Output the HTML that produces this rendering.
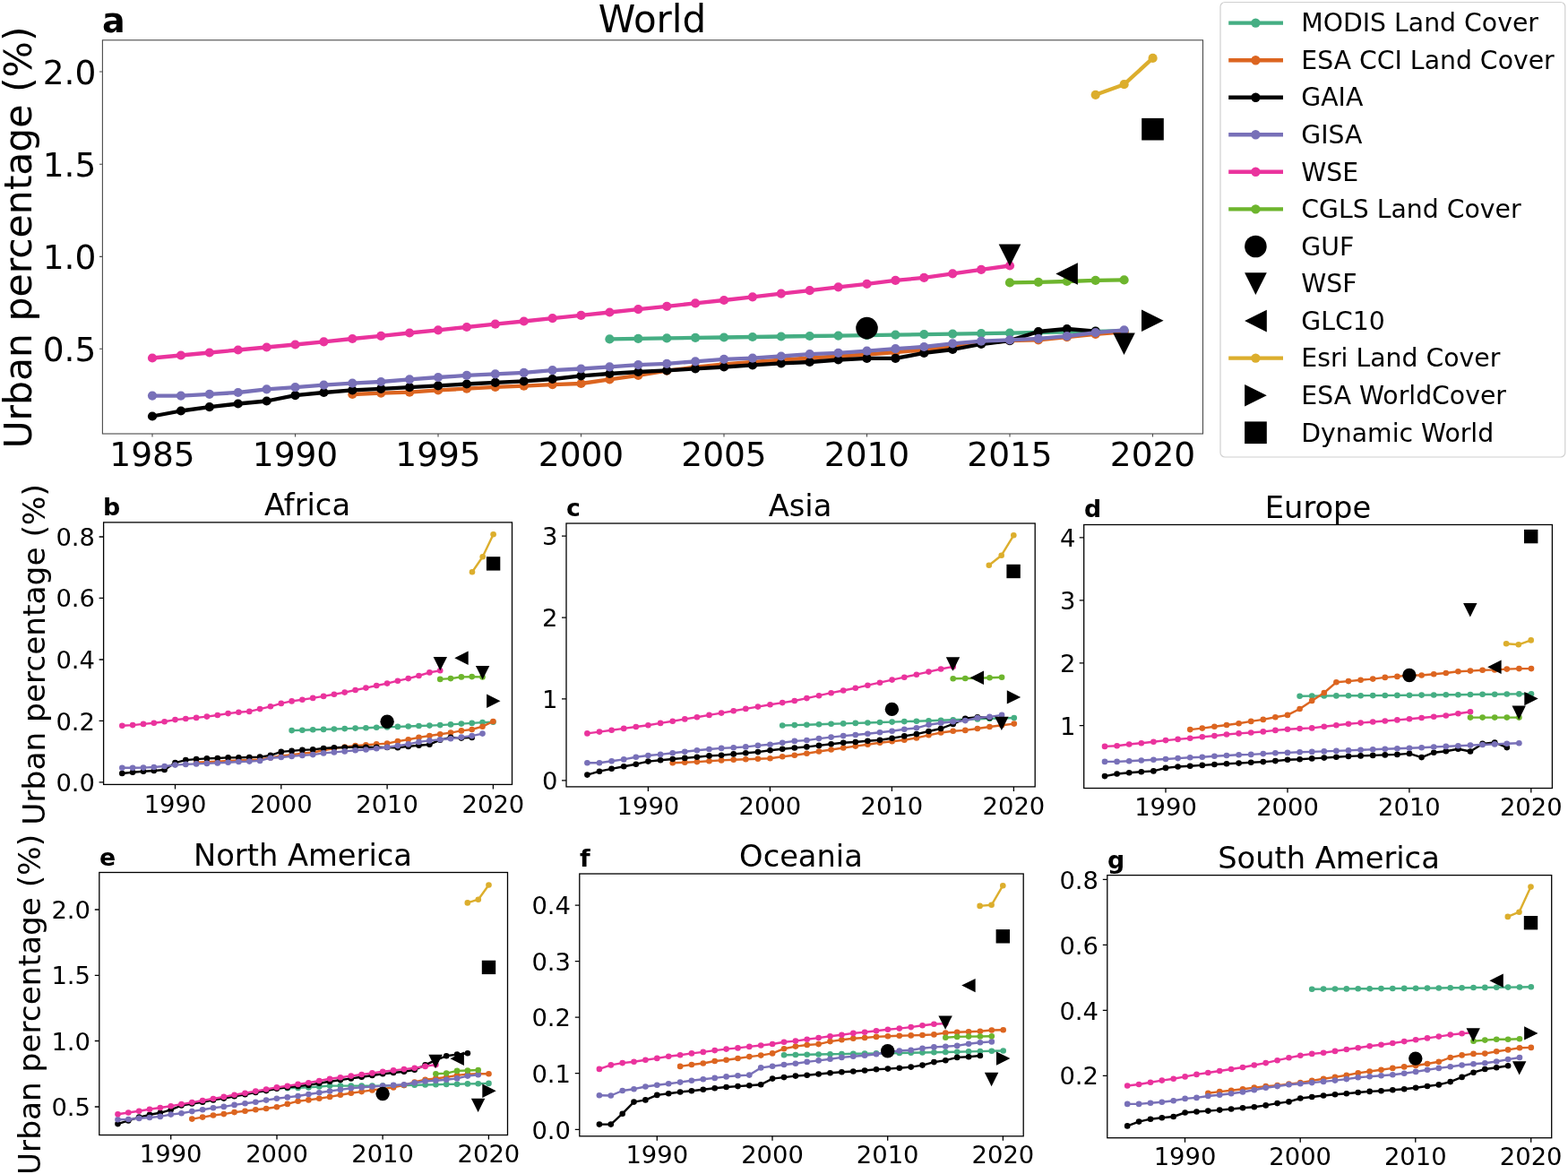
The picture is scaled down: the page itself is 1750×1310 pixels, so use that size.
<!DOCTYPE html>
<html lang="en">
<head>
<meta charset="utf-8">
<title>Urban percentage by land cover product</title>
<style>
html,body{margin:0;padding:0;background:#fff;}
body{width:1750px;height:1310px;overflow:hidden;}
svg{display:block;font-family:'DejaVu Sans','Liberation Sans',sans-serif;fill:#000;filter:blur(0.3px);}
svg text{fill:#000;}
</style>
</head>
<body>
<svg width="1750" height="1310" viewBox="0 0 1750 1310">
<rect width="1750" height="1310" fill="#fff"/>
<g>
<polyline points="680.4,378.4 712.3,377.9 744.2,377.4 776.1,376.9 808,376.5 839.9,376 871.8,375.5 903.7,375 935.6,374.6 967.5,374.1 999.4,373.6 1031.3,373.1 1063.2,372.6 1095.1,372.1 1127,371.6 1158.9,371 1190.8,370.4 1222.7,369.8 1254.6,369.2" fill="none" stroke="#45ae83" stroke-width="4.3" stroke-linejoin="round" stroke-linecap="butt"/>
<g fill="#45ae83"><circle cx="680.4" cy="378.4" r="5.1"/><circle cx="712.3" cy="377.9" r="5.1"/><circle cx="744.2" cy="377.4" r="5.1"/><circle cx="776.1" cy="376.9" r="5.1"/><circle cx="808" cy="376.5" r="5.1"/><circle cx="839.9" cy="376" r="5.1"/><circle cx="871.8" cy="375.5" r="5.1"/><circle cx="903.7" cy="375" r="5.1"/><circle cx="935.6" cy="374.6" r="5.1"/><circle cx="967.5" cy="374.1" r="5.1"/><circle cx="999.4" cy="373.6" r="5.1"/><circle cx="1031.3" cy="373.1" r="5.1"/><circle cx="1063.2" cy="372.6" r="5.1"/><circle cx="1095.1" cy="372.1" r="5.1"/><circle cx="1127" cy="371.6" r="5.1"/><circle cx="1158.9" cy="371" r="5.1"/><circle cx="1190.8" cy="370.4" r="5.1"/><circle cx="1222.7" cy="369.8" r="5.1"/><circle cx="1254.6" cy="369.2" r="5.1"/></g>
<polyline points="393.3,440 425.2,438.6 457.1,437.7 489,435.4 520.9,433.7 552.8,431.9 584.7,430.7 616.6,429.1 648.5,428 680.4,423.4 712.3,418.9 744.2,413.6 776.1,409.7 808,406.3 839.9,404 871.8,401.7 903.7,399.5 935.6,397.5 967.5,395.5 999.4,393 1031.3,390.5 1063.2,386.5 1095.1,383 1127,380 1158.9,379.4 1190.8,376.2 1222.7,372.8 1254.6,370.3" fill="none" stroke="#dc6520" stroke-width="4.3" stroke-linejoin="round" stroke-linecap="butt"/>
<g fill="#dc6520"><circle cx="393.3" cy="440" r="5.1"/><circle cx="425.2" cy="438.6" r="5.1"/><circle cx="457.1" cy="437.7" r="5.1"/><circle cx="489" cy="435.4" r="5.1"/><circle cx="520.9" cy="433.7" r="5.1"/><circle cx="552.8" cy="431.9" r="5.1"/><circle cx="584.7" cy="430.7" r="5.1"/><circle cx="616.6" cy="429.1" r="5.1"/><circle cx="648.5" cy="428" r="5.1"/><circle cx="680.4" cy="423.4" r="5.1"/><circle cx="712.3" cy="418.9" r="5.1"/><circle cx="744.2" cy="413.6" r="5.1"/><circle cx="776.1" cy="409.7" r="5.1"/><circle cx="808" cy="406.3" r="5.1"/><circle cx="839.9" cy="404" r="5.1"/><circle cx="871.8" cy="401.7" r="5.1"/><circle cx="903.7" cy="399.5" r="5.1"/><circle cx="935.6" cy="397.5" r="5.1"/><circle cx="967.5" cy="395.5" r="5.1"/><circle cx="999.4" cy="393" r="5.1"/><circle cx="1031.3" cy="390.5" r="5.1"/><circle cx="1063.2" cy="386.5" r="5.1"/><circle cx="1095.1" cy="383" r="5.1"/><circle cx="1127" cy="380" r="5.1"/><circle cx="1158.9" cy="379.4" r="5.1"/><circle cx="1190.8" cy="376.2" r="5.1"/><circle cx="1222.7" cy="372.8" r="5.1"/><circle cx="1254.6" cy="370.3" r="5.1"/></g>
<polyline points="170,464.5 201.9,458.5 233.8,454.2 265.7,450.5 297.6,447.5 329.5,441.1 361.4,438 393.3,435.4 425.2,433.8 457.1,432.2 489,430.4 520.9,428.5 552.8,426.9 584.7,425.3 616.6,423 648.5,419.3 680.4,417 712.3,415 744.2,413.4 776.1,411.3 808,409.5 839.9,407.4 871.8,405.3 903.7,404 935.6,401.5 967.5,399.9 999.4,399.9 1031.3,393.9 1063.2,390 1095.1,384 1127,380.1 1158.9,370 1190.8,367 1222.7,369.7" fill="none" stroke="#000000" stroke-width="4.3" stroke-linejoin="round" stroke-linecap="butt"/>
<g fill="#000000"><circle cx="170" cy="464.5" r="5.1"/><circle cx="201.9" cy="458.5" r="5.1"/><circle cx="233.8" cy="454.2" r="5.1"/><circle cx="265.7" cy="450.5" r="5.1"/><circle cx="297.6" cy="447.5" r="5.1"/><circle cx="329.5" cy="441.1" r="5.1"/><circle cx="361.4" cy="438" r="5.1"/><circle cx="393.3" cy="435.4" r="5.1"/><circle cx="425.2" cy="433.8" r="5.1"/><circle cx="457.1" cy="432.2" r="5.1"/><circle cx="489" cy="430.4" r="5.1"/><circle cx="520.9" cy="428.5" r="5.1"/><circle cx="552.8" cy="426.9" r="5.1"/><circle cx="584.7" cy="425.3" r="5.1"/><circle cx="616.6" cy="423" r="5.1"/><circle cx="648.5" cy="419.3" r="5.1"/><circle cx="680.4" cy="417" r="5.1"/><circle cx="712.3" cy="415" r="5.1"/><circle cx="744.2" cy="413.4" r="5.1"/><circle cx="776.1" cy="411.3" r="5.1"/><circle cx="808" cy="409.5" r="5.1"/><circle cx="839.9" cy="407.4" r="5.1"/><circle cx="871.8" cy="405.3" r="5.1"/><circle cx="903.7" cy="404" r="5.1"/><circle cx="935.6" cy="401.5" r="5.1"/><circle cx="967.5" cy="399.9" r="5.1"/><circle cx="999.4" cy="399.9" r="5.1"/><circle cx="1031.3" cy="393.9" r="5.1"/><circle cx="1063.2" cy="390" r="5.1"/><circle cx="1095.1" cy="384" r="5.1"/><circle cx="1127" cy="380.1" r="5.1"/><circle cx="1158.9" cy="370" r="5.1"/><circle cx="1190.8" cy="367" r="5.1"/><circle cx="1222.7" cy="369.7" r="5.1"/></g>
<polyline points="170,441.6 201.9,441.6 233.8,439.8 265.7,438 297.6,434.3 329.5,432.2 361.4,429.7 393.3,427.7 425.2,426 457.1,423.3 489,421 520.9,418.9 552.8,417.3 584.7,415.9 616.6,413.1 648.5,411.5 680.4,409.3 712.3,407.2 744.2,405.8 776.1,403.3 808,400.8 839.9,399.7 871.8,397.5 903.7,395.2 935.6,393.9 967.5,391.7 999.4,389.2 1031.3,387 1063.2,383.4 1095.1,380.7 1127,379.3 1158.9,377.9 1190.8,375.2 1222.7,371.1 1254.6,368.3" fill="none" stroke="#7870b8" stroke-width="4.3" stroke-linejoin="round" stroke-linecap="butt"/>
<g fill="#7870b8"><circle cx="170" cy="441.6" r="5.1"/><circle cx="201.9" cy="441.6" r="5.1"/><circle cx="233.8" cy="439.8" r="5.1"/><circle cx="265.7" cy="438" r="5.1"/><circle cx="297.6" cy="434.3" r="5.1"/><circle cx="329.5" cy="432.2" r="5.1"/><circle cx="361.4" cy="429.7" r="5.1"/><circle cx="393.3" cy="427.7" r="5.1"/><circle cx="425.2" cy="426" r="5.1"/><circle cx="457.1" cy="423.3" r="5.1"/><circle cx="489" cy="421" r="5.1"/><circle cx="520.9" cy="418.9" r="5.1"/><circle cx="552.8" cy="417.3" r="5.1"/><circle cx="584.7" cy="415.9" r="5.1"/><circle cx="616.6" cy="413.1" r="5.1"/><circle cx="648.5" cy="411.5" r="5.1"/><circle cx="680.4" cy="409.3" r="5.1"/><circle cx="712.3" cy="407.2" r="5.1"/><circle cx="744.2" cy="405.8" r="5.1"/><circle cx="776.1" cy="403.3" r="5.1"/><circle cx="808" cy="400.8" r="5.1"/><circle cx="839.9" cy="399.7" r="5.1"/><circle cx="871.8" cy="397.5" r="5.1"/><circle cx="903.7" cy="395.2" r="5.1"/><circle cx="935.6" cy="393.9" r="5.1"/><circle cx="967.5" cy="391.7" r="5.1"/><circle cx="999.4" cy="389.2" r="5.1"/><circle cx="1031.3" cy="387" r="5.1"/><circle cx="1063.2" cy="383.4" r="5.1"/><circle cx="1095.1" cy="380.7" r="5.1"/><circle cx="1127" cy="379.3" r="5.1"/><circle cx="1158.9" cy="377.9" r="5.1"/><circle cx="1190.8" cy="375.2" r="5.1"/><circle cx="1222.7" cy="371.1" r="5.1"/><circle cx="1254.6" cy="368.3" r="5.1"/></g>
<polyline points="170,399.5 201.9,396.5 233.8,393.5 265.7,390.5 297.6,387.5 329.5,384.5 361.4,381.3 393.3,378 425.2,374.8 457.1,371.5 489,368.3 520.9,365 552.8,361.7 584.7,358.5 616.6,355.2 648.5,351.9 680.4,348.5 712.3,345.1 744.2,341.8 776.1,338.4 808,335 839.9,331.3 871.8,327.6 903.7,324.2 935.6,320.3 967.5,316.8 999.4,312.9 1031.3,309.9 1063.2,305.3 1095.1,300.9 1127,296.5" fill="none" stroke="#ea339d" stroke-width="4.3" stroke-linejoin="round" stroke-linecap="butt"/>
<g fill="#ea339d"><circle cx="170" cy="399.5" r="5.1"/><circle cx="201.9" cy="396.5" r="5.1"/><circle cx="233.8" cy="393.5" r="5.1"/><circle cx="265.7" cy="390.5" r="5.1"/><circle cx="297.6" cy="387.5" r="5.1"/><circle cx="329.5" cy="384.5" r="5.1"/><circle cx="361.4" cy="381.3" r="5.1"/><circle cx="393.3" cy="378" r="5.1"/><circle cx="425.2" cy="374.8" r="5.1"/><circle cx="457.1" cy="371.5" r="5.1"/><circle cx="489" cy="368.3" r="5.1"/><circle cx="520.9" cy="365" r="5.1"/><circle cx="552.8" cy="361.7" r="5.1"/><circle cx="584.7" cy="358.5" r="5.1"/><circle cx="616.6" cy="355.2" r="5.1"/><circle cx="648.5" cy="351.9" r="5.1"/><circle cx="680.4" cy="348.5" r="5.1"/><circle cx="712.3" cy="345.1" r="5.1"/><circle cx="744.2" cy="341.8" r="5.1"/><circle cx="776.1" cy="338.4" r="5.1"/><circle cx="808" cy="335" r="5.1"/><circle cx="839.9" cy="331.3" r="5.1"/><circle cx="871.8" cy="327.6" r="5.1"/><circle cx="903.7" cy="324.2" r="5.1"/><circle cx="935.6" cy="320.3" r="5.1"/><circle cx="967.5" cy="316.8" r="5.1"/><circle cx="999.4" cy="312.9" r="5.1"/><circle cx="1031.3" cy="309.9" r="5.1"/><circle cx="1063.2" cy="305.3" r="5.1"/><circle cx="1095.1" cy="300.9" r="5.1"/><circle cx="1127" cy="296.5" r="5.1"/></g>
<polyline points="1127,315.4 1158.9,314.9 1190.8,314 1222.7,312.9 1254.6,312.4" fill="none" stroke="#6db52d" stroke-width="4.3" stroke-linejoin="round" stroke-linecap="butt"/>
<g fill="#6db52d"><circle cx="1127" cy="315.4" r="5.1"/><circle cx="1158.9" cy="314.9" r="5.1"/><circle cx="1190.8" cy="314" r="5.1"/><circle cx="1222.7" cy="312.9" r="5.1"/><circle cx="1254.6" cy="312.4" r="5.1"/></g>
<g fill="#000">
<circle cx="967.5" cy="366.1" r="12.3"/>
<polygon points="1114.7,272.4 1139.3,272.4 1127,297"/>
<polygon points="1242.2,371.5 1266.8,371.5 1254.5,396.1"/>
<polygon points="1202.9,293.2 1202.9,317.8 1178.3,305.5"/>
</g>
<polyline points="1222.7,105.8 1254.6,94.2 1286.6,64.9" fill="none" stroke="#dcae2d" stroke-width="4.3" stroke-linejoin="round"/>
<g fill="#dcae2d"><circle cx="1222.7" cy="105.8" r="5.1"/><circle cx="1254.6" cy="94.2" r="5.1"/><circle cx="1286.6" cy="64.9" r="5.1"/></g>
<g fill="#000">
<polygon points="1274,345.5 1274,370.1 1298.6,357.8"/>
<rect x="1274.2" y="131.9" width="24.6" height="24.6"/>
</g>
<rect x="114.4" y="44.8" width="1228.1" height="439.2" fill="none" stroke="#4a4a4a" stroke-width="1.1"/>
<path d="M170 484v3.4M329.5 484v3.4M489 484v3.4M648.5 484v3.4M808 484v3.4M967.5 484v3.4M1127 484v3.4M1286.5 484v3.4M114.4 80h-3.4M114.4 183.2h-3.4M114.4 286.4h-3.4M114.4 389.2h-3.4" stroke="#4a4a4a" stroke-width="1.1" fill="none"/>
<g font-size="37.5" text-anchor="middle">
<text x="170" y="519.5">1985</text>
<text x="329.5" y="519.5">1990</text>
<text x="489" y="519.5">1995</text>
<text x="648.5" y="519.5">2000</text>
<text x="808" y="519.5">2005</text>
<text x="967.5" y="519.5">2010</text>
<text x="1127" y="519.5">2015</text>
<text x="1286.5" y="519.5">2020</text>
</g>
<g font-size="37.5" text-anchor="end">
<text x="107.4" y="93.5">2.0</text>
<text x="107.4" y="196.7">1.5</text>
<text x="107.4" y="299.9">1.0</text>
<text x="107.4" y="402.7">0.5</text>
</g>
<text x="728" y="36" font-size="42" text-anchor="middle">World</text>
<text x="114" y="35.8" font-size="38" font-weight="bold">a</text>
<text transform="translate(34.9 265) rotate(-90)" font-size="42.5" text-anchor="middle">Urban percentage (%)</text>
</g>
<g>
<polyline points="325.6,815.1 337.4,814.7 349.2,814.3 361.1,813.9 372.9,813.5 384.7,813.1 396.6,812.6 408.4,812.2 420.2,811.8 432.1,811.4 443.9,810.9 455.7,810.5 467.5,810 479.4,809.6 491.2,809.1 503,808.4 514.9,807.6 526.7,806.9 538.5,806.1 550.4,805.7" fill="none" stroke="#45ae83" stroke-width="2.4" stroke-linejoin="round" stroke-linecap="butt"/>
<g fill="#45ae83"><circle cx="325.6" cy="815.1" r="3.3"/><circle cx="337.4" cy="814.7" r="3.3"/><circle cx="349.2" cy="814.3" r="3.3"/><circle cx="361.1" cy="813.9" r="3.3"/><circle cx="372.9" cy="813.5" r="3.3"/><circle cx="384.7" cy="813.1" r="3.3"/><circle cx="396.6" cy="812.6" r="3.3"/><circle cx="408.4" cy="812.2" r="3.3"/><circle cx="420.2" cy="811.8" r="3.3"/><circle cx="432.1" cy="811.4" r="3.3"/><circle cx="443.9" cy="810.9" r="3.3"/><circle cx="455.7" cy="810.5" r="3.3"/><circle cx="467.5" cy="810" r="3.3"/><circle cx="479.4" cy="809.6" r="3.3"/><circle cx="491.2" cy="809.1" r="3.3"/><circle cx="503" cy="808.4" r="3.3"/><circle cx="514.9" cy="807.6" r="3.3"/><circle cx="526.7" cy="806.9" r="3.3"/><circle cx="538.5" cy="806.1" r="3.3"/><circle cx="550.4" cy="805.7" r="3.3"/></g>
<polyline points="219.1,850.7 230.9,850.1 242.8,849.6 254.6,849 266.4,848.5 278.3,848 290.1,847.5 301.9,845.5 313.8,843.5 325.6,842.2 337.4,840.8 349.2,839.5 361.1,837.2 372.9,835 384.7,833.5 396.6,832.1 408.4,831.3 420.2,830.4 432.1,829.6 443.9,827.1 455.7,825.3 467.5,822.9 479.4,821 491.2,819.3 503,817.6 514.9,815.4 526.7,814 538.5,810.7 550.4,805" fill="none" stroke="#dc6520" stroke-width="2.4" stroke-linejoin="round" stroke-linecap="butt"/>
<g fill="#dc6520"><circle cx="219.1" cy="850.7" r="3.3"/><circle cx="230.9" cy="850.1" r="3.3"/><circle cx="242.8" cy="849.6" r="3.3"/><circle cx="254.6" cy="849" r="3.3"/><circle cx="266.4" cy="848.5" r="3.3"/><circle cx="278.3" cy="848" r="3.3"/><circle cx="290.1" cy="847.5" r="3.3"/><circle cx="301.9" cy="845.5" r="3.3"/><circle cx="313.8" cy="843.5" r="3.3"/><circle cx="325.6" cy="842.2" r="3.3"/><circle cx="337.4" cy="840.8" r="3.3"/><circle cx="349.2" cy="839.5" r="3.3"/><circle cx="361.1" cy="837.2" r="3.3"/><circle cx="372.9" cy="835" r="3.3"/><circle cx="384.7" cy="833.5" r="3.3"/><circle cx="396.6" cy="832.1" r="3.3"/><circle cx="408.4" cy="831.3" r="3.3"/><circle cx="420.2" cy="830.4" r="3.3"/><circle cx="432.1" cy="829.6" r="3.3"/><circle cx="443.9" cy="827.1" r="3.3"/><circle cx="455.7" cy="825.3" r="3.3"/><circle cx="467.5" cy="822.9" r="3.3"/><circle cx="479.4" cy="821" r="3.3"/><circle cx="491.2" cy="819.3" r="3.3"/><circle cx="503" cy="817.6" r="3.3"/><circle cx="514.9" cy="815.4" r="3.3"/><circle cx="526.7" cy="814" r="3.3"/><circle cx="538.5" cy="810.7" r="3.3"/><circle cx="550.4" cy="805" r="3.3"/></g>
<polyline points="136.3,863 148.1,861.7 160,860.7 171.8,860 183.6,859 195.5,851.1 207.3,848.1 219.1,847.1 230.9,846.4 242.8,846 254.6,845.4 266.4,845.4 278.3,845 290.1,844.6 301.9,842.9 313.8,838.9 325.6,837.9 337.4,836.9 349.2,836.4 361.1,835 372.9,834.3 384.7,834 396.6,833.6 408.4,833.7 420.2,833.9 432.1,834 443.9,834.3 455.7,832.9 467.5,831.7 479.4,830.7 491.2,825.7 503,822.9 514.9,823.6 526.7,822.9" fill="none" stroke="#000000" stroke-width="2.4" stroke-linejoin="round" stroke-linecap="butt"/>
<g fill="#000000"><circle cx="136.3" cy="863" r="3.3"/><circle cx="148.1" cy="861.7" r="3.3"/><circle cx="160" cy="860.7" r="3.3"/><circle cx="171.8" cy="860" r="3.3"/><circle cx="183.6" cy="859" r="3.3"/><circle cx="195.5" cy="851.1" r="3.3"/><circle cx="207.3" cy="848.1" r="3.3"/><circle cx="219.1" cy="847.1" r="3.3"/><circle cx="230.9" cy="846.4" r="3.3"/><circle cx="242.8" cy="846" r="3.3"/><circle cx="254.6" cy="845.4" r="3.3"/><circle cx="266.4" cy="845.4" r="3.3"/><circle cx="278.3" cy="845" r="3.3"/><circle cx="290.1" cy="844.6" r="3.3"/><circle cx="301.9" cy="842.9" r="3.3"/><circle cx="313.8" cy="838.9" r="3.3"/><circle cx="325.6" cy="837.9" r="3.3"/><circle cx="337.4" cy="836.9" r="3.3"/><circle cx="349.2" cy="836.4" r="3.3"/><circle cx="361.1" cy="835" r="3.3"/><circle cx="372.9" cy="834.3" r="3.3"/><circle cx="384.7" cy="834" r="3.3"/><circle cx="396.6" cy="833.6" r="3.3"/><circle cx="408.4" cy="833.7" r="3.3"/><circle cx="420.2" cy="833.9" r="3.3"/><circle cx="432.1" cy="834" r="3.3"/><circle cx="443.9" cy="834.3" r="3.3"/><circle cx="455.7" cy="832.9" r="3.3"/><circle cx="467.5" cy="831.7" r="3.3"/><circle cx="479.4" cy="830.7" r="3.3"/><circle cx="491.2" cy="825.7" r="3.3"/><circle cx="503" cy="822.9" r="3.3"/><circle cx="514.9" cy="823.6" r="3.3"/><circle cx="526.7" cy="822.9" r="3.3"/></g>
<polyline points="136.3,856.7 148.1,856.7 160,856.6 171.8,856 183.6,855 195.5,853.6 207.3,852.9 219.1,852.4 230.9,851.9 242.8,851.4 254.6,850.7 266.4,850 278.3,849.6 290.1,848.9 301.9,845.7 313.8,845 325.6,843.9 337.4,842.9 349.2,842.1 361.1,840.4 372.9,839.4 384.7,838.4 396.6,837.2 408.4,836.5 420.2,835.3 432.1,833.8 443.9,832.1 455.7,830.4 467.5,827.9 479.4,826.4 491.2,825.3 503,824.3 514.9,822.6 526.7,821.1 538.5,818.6" fill="none" stroke="#7870b8" stroke-width="2.4" stroke-linejoin="round" stroke-linecap="butt"/>
<g fill="#7870b8"><circle cx="136.3" cy="856.7" r="3.3"/><circle cx="148.1" cy="856.7" r="3.3"/><circle cx="160" cy="856.6" r="3.3"/><circle cx="171.8" cy="856" r="3.3"/><circle cx="183.6" cy="855" r="3.3"/><circle cx="195.5" cy="853.6" r="3.3"/><circle cx="207.3" cy="852.9" r="3.3"/><circle cx="219.1" cy="852.4" r="3.3"/><circle cx="230.9" cy="851.9" r="3.3"/><circle cx="242.8" cy="851.4" r="3.3"/><circle cx="254.6" cy="850.7" r="3.3"/><circle cx="266.4" cy="850" r="3.3"/><circle cx="278.3" cy="849.6" r="3.3"/><circle cx="290.1" cy="848.9" r="3.3"/><circle cx="301.9" cy="845.7" r="3.3"/><circle cx="313.8" cy="845" r="3.3"/><circle cx="325.6" cy="843.9" r="3.3"/><circle cx="337.4" cy="842.9" r="3.3"/><circle cx="349.2" cy="842.1" r="3.3"/><circle cx="361.1" cy="840.4" r="3.3"/><circle cx="372.9" cy="839.4" r="3.3"/><circle cx="384.7" cy="838.4" r="3.3"/><circle cx="396.6" cy="837.2" r="3.3"/><circle cx="408.4" cy="836.5" r="3.3"/><circle cx="420.2" cy="835.3" r="3.3"/><circle cx="432.1" cy="833.8" r="3.3"/><circle cx="443.9" cy="832.1" r="3.3"/><circle cx="455.7" cy="830.4" r="3.3"/><circle cx="467.5" cy="827.9" r="3.3"/><circle cx="479.4" cy="826.4" r="3.3"/><circle cx="491.2" cy="825.3" r="3.3"/><circle cx="503" cy="824.3" r="3.3"/><circle cx="514.9" cy="822.6" r="3.3"/><circle cx="526.7" cy="821.1" r="3.3"/><circle cx="538.5" cy="818.6" r="3.3"/></g>
<polyline points="136.3,809.7 148.1,809.1 160,807.9 171.8,806.7 183.6,805.3 195.5,803.1 207.3,802 219.1,800.9 230.9,799.6 242.8,798 254.6,796.1 266.4,794.7 278.3,793.9 290.1,791.1 301.9,788.3 313.8,784.9 325.6,782.4 337.4,780.7 349.2,778.9 361.1,776.9 372.9,774.7 384.7,772.6 396.6,770 408.4,767.6 420.2,765 432.1,762.6 443.9,759.7 455.7,757.1 467.5,754 479.4,750.4 491.2,748.3" fill="none" stroke="#ea339d" stroke-width="2.4" stroke-linejoin="round" stroke-linecap="butt"/>
<g fill="#ea339d"><circle cx="136.3" cy="809.7" r="3.3"/><circle cx="148.1" cy="809.1" r="3.3"/><circle cx="160" cy="807.9" r="3.3"/><circle cx="171.8" cy="806.7" r="3.3"/><circle cx="183.6" cy="805.3" r="3.3"/><circle cx="195.5" cy="803.1" r="3.3"/><circle cx="207.3" cy="802" r="3.3"/><circle cx="219.1" cy="800.9" r="3.3"/><circle cx="230.9" cy="799.6" r="3.3"/><circle cx="242.8" cy="798" r="3.3"/><circle cx="254.6" cy="796.1" r="3.3"/><circle cx="266.4" cy="794.7" r="3.3"/><circle cx="278.3" cy="793.9" r="3.3"/><circle cx="290.1" cy="791.1" r="3.3"/><circle cx="301.9" cy="788.3" r="3.3"/><circle cx="313.8" cy="784.9" r="3.3"/><circle cx="325.6" cy="782.4" r="3.3"/><circle cx="337.4" cy="780.7" r="3.3"/><circle cx="349.2" cy="778.9" r="3.3"/><circle cx="361.1" cy="776.9" r="3.3"/><circle cx="372.9" cy="774.7" r="3.3"/><circle cx="384.7" cy="772.6" r="3.3"/><circle cx="396.6" cy="770" r="3.3"/><circle cx="408.4" cy="767.6" r="3.3"/><circle cx="420.2" cy="765" r="3.3"/><circle cx="432.1" cy="762.6" r="3.3"/><circle cx="443.9" cy="759.7" r="3.3"/><circle cx="455.7" cy="757.1" r="3.3"/><circle cx="467.5" cy="754" r="3.3"/><circle cx="479.4" cy="750.4" r="3.3"/><circle cx="491.2" cy="748.3" r="3.3"/></g>
<polyline points="491.2,757.9 503,757.1 514.9,755.4 526.7,755.1 538.5,755.4" fill="none" stroke="#6db52d" stroke-width="2.4" stroke-linejoin="round" stroke-linecap="butt"/>
<g fill="#6db52d"><circle cx="491.2" cy="757.9" r="3.3"/><circle cx="503" cy="757.1" r="3.3"/><circle cx="514.9" cy="755.4" r="3.3"/><circle cx="526.7" cy="755.1" r="3.3"/><circle cx="538.5" cy="755.4" r="3.3"/></g>
<g fill="#000">
<circle cx="432.1" cy="805.3" r="7.7"/>
<polygon points="483.6,732.9 499,732.9 491.3,748.3"/>
<polygon points="530.9,742.9 546.3,742.9 538.6,758.3"/>
<polygon points="522.7,726.6 522.7,742 507.3,734.3"/>
</g>
<polyline points="527,638.2 538.7,621.3 550.6,596.3" fill="none" stroke="#dcae2d" stroke-width="2.4" stroke-linejoin="round"/>
<g fill="#dcae2d"><circle cx="527" cy="638.2" r="3.3"/><circle cx="538.7" cy="621.3" r="3.3"/><circle cx="550.6" cy="596.3" r="3.3"/></g>
<g fill="#000">
<polygon points="543.1,774.6 543.1,790 558.5,782.3"/>
<rect x="542.9" y="621.2" width="15.4" height="15.4"/>
</g>
<rect x="115.6" y="582.9" width="455.9" height="292.5" fill="none" stroke="#000" stroke-width="1.3"/>
<path d="M195.5 875.4v5.0M313.8 875.4v5.0M432.1 875.4v5.0M550.4 875.4v5.0M115.6 599h-5.0M115.6 667.3h-5.0M115.6 736h-5.0M115.6 804.4h-5.0M115.6 872.9h-5.0" stroke="#000" stroke-width="1.3" fill="none"/>
<g font-size="27.4" text-anchor="middle">
<text x="195.5" y="907">1990</text>
<text x="313.8" y="907">2000</text>
<text x="432.1" y="907">2010</text>
<text x="550.4" y="907">2020</text>
</g>
<g font-size="27.4" text-anchor="end">
<text x="106" y="609.1">0.8</text>
<text x="106" y="677.4">0.6</text>
<text x="106" y="746.1">0.4</text>
<text x="106" y="814.5">0.2</text>
<text x="106" y="883">0.0</text>
</g>
<text x="343" y="575" font-size="33.7" text-anchor="middle">Africa</text>
<text x="115" y="575" font-size="26.8" font-weight="bold">b</text>
<text transform="translate(49.7 730.4) rotate(-90)" font-size="34.35" text-anchor="middle">Urban percentage (%)</text>
</g>
<g>
<polyline points="873.2,809.5 886.8,809.1 900.4,808.7 914,808.3 927.6,807.8 941.2,807.4 954.8,806.9 968.4,806.5 982,806 995.6,805.6 1009.3,805.1 1022.9,804.7 1036.5,804.2 1050.1,803.8 1063.7,803.3 1077.3,802.8 1090.9,802.4 1104.5,801.9 1118.1,801.5 1131.8,801" fill="none" stroke="#45ae83" stroke-width="2.4" stroke-linejoin="round" stroke-linecap="butt"/>
<g fill="#45ae83"><circle cx="873.2" cy="809.5" r="3.3"/><circle cx="886.8" cy="809.1" r="3.3"/><circle cx="900.4" cy="808.7" r="3.3"/><circle cx="914" cy="808.3" r="3.3"/><circle cx="927.6" cy="807.8" r="3.3"/><circle cx="941.2" cy="807.4" r="3.3"/><circle cx="954.8" cy="806.9" r="3.3"/><circle cx="968.4" cy="806.5" r="3.3"/><circle cx="982" cy="806" r="3.3"/><circle cx="995.6" cy="805.6" r="3.3"/><circle cx="1009.3" cy="805.1" r="3.3"/><circle cx="1022.9" cy="804.7" r="3.3"/><circle cx="1036.5" cy="804.2" r="3.3"/><circle cx="1050.1" cy="803.8" r="3.3"/><circle cx="1063.7" cy="803.3" r="3.3"/><circle cx="1077.3" cy="802.8" r="3.3"/><circle cx="1090.9" cy="802.4" r="3.3"/><circle cx="1104.5" cy="801.9" r="3.3"/><circle cx="1118.1" cy="801.5" r="3.3"/><circle cx="1131.8" cy="801" r="3.3"/></g>
<polyline points="750.7,851.3 764.3,850.8 777.9,850.1 791.5,849.3 805.1,848.4 818.7,847.7 832.3,847.3 845.9,846.8 859.5,846.2 873.2,844.2 886.8,842.7 900.4,840.7 914,838.5 927.6,836.5 941.2,834.5 954.8,832.6 968.4,830.8 982,828.8 995.6,827.2 1009.3,825.7 1022.9,823.4 1036.5,820.3 1050.1,817.5 1063.7,815.7 1077.3,814.9 1090.9,813 1104.5,811 1118.1,809.2 1131.8,807.6" fill="none" stroke="#dc6520" stroke-width="2.4" stroke-linejoin="round" stroke-linecap="butt"/>
<g fill="#dc6520"><circle cx="750.7" cy="851.3" r="3.3"/><circle cx="764.3" cy="850.8" r="3.3"/><circle cx="777.9" cy="850.1" r="3.3"/><circle cx="791.5" cy="849.3" r="3.3"/><circle cx="805.1" cy="848.4" r="3.3"/><circle cx="818.7" cy="847.7" r="3.3"/><circle cx="832.3" cy="847.3" r="3.3"/><circle cx="845.9" cy="846.8" r="3.3"/><circle cx="859.5" cy="846.2" r="3.3"/><circle cx="873.2" cy="844.2" r="3.3"/><circle cx="886.8" cy="842.7" r="3.3"/><circle cx="900.4" cy="840.7" r="3.3"/><circle cx="914" cy="838.5" r="3.3"/><circle cx="927.6" cy="836.5" r="3.3"/><circle cx="941.2" cy="834.5" r="3.3"/><circle cx="954.8" cy="832.6" r="3.3"/><circle cx="968.4" cy="830.8" r="3.3"/><circle cx="982" cy="828.8" r="3.3"/><circle cx="995.6" cy="827.2" r="3.3"/><circle cx="1009.3" cy="825.7" r="3.3"/><circle cx="1022.9" cy="823.4" r="3.3"/><circle cx="1036.5" cy="820.3" r="3.3"/><circle cx="1050.1" cy="817.5" r="3.3"/><circle cx="1063.7" cy="815.7" r="3.3"/><circle cx="1077.3" cy="814.9" r="3.3"/><circle cx="1090.9" cy="813" r="3.3"/><circle cx="1104.5" cy="811" r="3.3"/><circle cx="1118.1" cy="809.2" r="3.3"/><circle cx="1131.8" cy="807.6" r="3.3"/></g>
<polyline points="655.4,864.6 669,860.7 682.6,857.8 696.2,855.2 709.8,852.7 723.4,849.6 737.1,848.2 750.7,847 764.3,845.9 777.9,844.7 791.5,843.4 805.1,842.7 818.7,841.4 832.3,840.3 845.9,839.1 859.5,837.3 873.2,835.7 886.8,834.5 900.4,833.4 914,831.9 927.6,830.3 941.2,828.8 954.8,828 968.4,826.8 982,825.7 995.6,823.7 1009.3,821.4 1022.9,819.1 1036.5,816 1050.1,813 1063.7,807.9 1077.3,801.8 1090.9,800.2 1104.5,801" fill="none" stroke="#000000" stroke-width="2.4" stroke-linejoin="round" stroke-linecap="butt"/>
<g fill="#000000"><circle cx="655.4" cy="864.6" r="3.3"/><circle cx="669" cy="860.7" r="3.3"/><circle cx="682.6" cy="857.8" r="3.3"/><circle cx="696.2" cy="855.2" r="3.3"/><circle cx="709.8" cy="852.7" r="3.3"/><circle cx="723.4" cy="849.6" r="3.3"/><circle cx="737.1" cy="848.2" r="3.3"/><circle cx="750.7" cy="847" r="3.3"/><circle cx="764.3" cy="845.9" r="3.3"/><circle cx="777.9" cy="844.7" r="3.3"/><circle cx="791.5" cy="843.4" r="3.3"/><circle cx="805.1" cy="842.7" r="3.3"/><circle cx="818.7" cy="841.4" r="3.3"/><circle cx="832.3" cy="840.3" r="3.3"/><circle cx="845.9" cy="839.1" r="3.3"/><circle cx="859.5" cy="837.3" r="3.3"/><circle cx="873.2" cy="835.7" r="3.3"/><circle cx="886.8" cy="834.5" r="3.3"/><circle cx="900.4" cy="833.4" r="3.3"/><circle cx="914" cy="831.9" r="3.3"/><circle cx="927.6" cy="830.3" r="3.3"/><circle cx="941.2" cy="828.8" r="3.3"/><circle cx="954.8" cy="828" r="3.3"/><circle cx="968.4" cy="826.8" r="3.3"/><circle cx="982" cy="825.7" r="3.3"/><circle cx="995.6" cy="823.7" r="3.3"/><circle cx="1009.3" cy="821.4" r="3.3"/><circle cx="1022.9" cy="819.1" r="3.3"/><circle cx="1036.5" cy="816" r="3.3"/><circle cx="1050.1" cy="813" r="3.3"/><circle cx="1063.7" cy="807.9" r="3.3"/><circle cx="1077.3" cy="801.8" r="3.3"/><circle cx="1090.9" cy="800.2" r="3.3"/><circle cx="1104.5" cy="801" r="3.3"/></g>
<polyline points="655.4,851.3 669,851.3 682.6,849.3 696.2,847.4 709.8,844.7 723.4,843 737.1,841.9 750.7,840.3 764.3,838.8 777.9,837.3 791.5,836 805.1,834.9 818.7,834.2 832.3,833.4 845.9,831.9 859.5,830.8 873.2,828.8 886.8,826.9 900.4,826.1 914,824.1 927.6,822.6 941.2,821.1 954.8,820 968.4,818.7 982,817.2 995.6,815.7 1009.3,813.8 1022.9,812.3 1036.5,808.7 1050.1,806.7 1063.7,805.2 1077.3,804.1 1090.9,801 1104.5,799.9 1118.1,797.9" fill="none" stroke="#7870b8" stroke-width="2.4" stroke-linejoin="round" stroke-linecap="butt"/>
<g fill="#7870b8"><circle cx="655.4" cy="851.3" r="3.3"/><circle cx="669" cy="851.3" r="3.3"/><circle cx="682.6" cy="849.3" r="3.3"/><circle cx="696.2" cy="847.4" r="3.3"/><circle cx="709.8" cy="844.7" r="3.3"/><circle cx="723.4" cy="843" r="3.3"/><circle cx="737.1" cy="841.9" r="3.3"/><circle cx="750.7" cy="840.3" r="3.3"/><circle cx="764.3" cy="838.8" r="3.3"/><circle cx="777.9" cy="837.3" r="3.3"/><circle cx="791.5" cy="836" r="3.3"/><circle cx="805.1" cy="834.9" r="3.3"/><circle cx="818.7" cy="834.2" r="3.3"/><circle cx="832.3" cy="833.4" r="3.3"/><circle cx="845.9" cy="831.9" r="3.3"/><circle cx="859.5" cy="830.8" r="3.3"/><circle cx="873.2" cy="828.8" r="3.3"/><circle cx="886.8" cy="826.9" r="3.3"/><circle cx="900.4" cy="826.1" r="3.3"/><circle cx="914" cy="824.1" r="3.3"/><circle cx="927.6" cy="822.6" r="3.3"/><circle cx="941.2" cy="821.1" r="3.3"/><circle cx="954.8" cy="820" r="3.3"/><circle cx="968.4" cy="818.7" r="3.3"/><circle cx="982" cy="817.2" r="3.3"/><circle cx="995.6" cy="815.7" r="3.3"/><circle cx="1009.3" cy="813.8" r="3.3"/><circle cx="1022.9" cy="812.3" r="3.3"/><circle cx="1036.5" cy="808.7" r="3.3"/><circle cx="1050.1" cy="806.7" r="3.3"/><circle cx="1063.7" cy="805.2" r="3.3"/><circle cx="1077.3" cy="804.1" r="3.3"/><circle cx="1090.9" cy="801" r="3.3"/><circle cx="1104.5" cy="799.9" r="3.3"/><circle cx="1118.1" cy="797.9" r="3.3"/></g>
<polyline points="655.4,818.4 669,816.6 682.6,814.7 696.2,812.9 709.8,811 723.4,809.2 737.1,806.9 750.7,804.7 764.3,802.4 777.9,800.2 791.5,797.9 805.1,795.6 818.7,793.3 832.3,790.9 845.9,788.6 859.5,786.3 873.2,784.1 886.8,782 900.4,779.1 914,776.2 927.6,773.2 941.2,770.5 954.8,767.8 968.4,764.7 982,761.7 995.6,758.6 1009.3,755.7 1022.9,752.7 1036.5,749.6 1050.1,746.5 1063.7,743.9" fill="none" stroke="#ea339d" stroke-width="2.4" stroke-linejoin="round" stroke-linecap="butt"/>
<g fill="#ea339d"><circle cx="655.4" cy="818.4" r="3.3"/><circle cx="669" cy="816.6" r="3.3"/><circle cx="682.6" cy="814.7" r="3.3"/><circle cx="696.2" cy="812.9" r="3.3"/><circle cx="709.8" cy="811" r="3.3"/><circle cx="723.4" cy="809.2" r="3.3"/><circle cx="737.1" cy="806.9" r="3.3"/><circle cx="750.7" cy="804.7" r="3.3"/><circle cx="764.3" cy="802.4" r="3.3"/><circle cx="777.9" cy="800.2" r="3.3"/><circle cx="791.5" cy="797.9" r="3.3"/><circle cx="805.1" cy="795.6" r="3.3"/><circle cx="818.7" cy="793.3" r="3.3"/><circle cx="832.3" cy="790.9" r="3.3"/><circle cx="845.9" cy="788.6" r="3.3"/><circle cx="859.5" cy="786.3" r="3.3"/><circle cx="873.2" cy="784.1" r="3.3"/><circle cx="886.8" cy="782" r="3.3"/><circle cx="900.4" cy="779.1" r="3.3"/><circle cx="914" cy="776.2" r="3.3"/><circle cx="927.6" cy="773.2" r="3.3"/><circle cx="941.2" cy="770.5" r="3.3"/><circle cx="954.8" cy="767.8" r="3.3"/><circle cx="968.4" cy="764.7" r="3.3"/><circle cx="982" cy="761.7" r="3.3"/><circle cx="995.6" cy="758.6" r="3.3"/><circle cx="1009.3" cy="755.7" r="3.3"/><circle cx="1022.9" cy="752.7" r="3.3"/><circle cx="1036.5" cy="749.6" r="3.3"/><circle cx="1050.1" cy="746.5" r="3.3"/><circle cx="1063.7" cy="743.9" r="3.3"/></g>
<polyline points="1063.7,757.3 1077.3,757 1090.9,756.8 1104.5,756.3 1118.1,755.8" fill="none" stroke="#6db52d" stroke-width="2.4" stroke-linejoin="round" stroke-linecap="butt"/>
<g fill="#6db52d"><circle cx="1063.7" cy="757.3" r="3.3"/><circle cx="1077.3" cy="757" r="3.3"/><circle cx="1090.9" cy="756.8" r="3.3"/><circle cx="1104.5" cy="756.3" r="3.3"/><circle cx="1118.1" cy="755.8" r="3.3"/></g>
<g fill="#000">
<circle cx="995.4" cy="791.4" r="7.7"/>
<polygon points="1055.8,733.3 1071.2,733.3 1063.5,748.7"/>
<polygon points="1110.2,799.7 1125.6,799.7 1117.9,815.1"/>
<polygon points="1098,748.6 1098,764 1082.6,756.3"/>
</g>
<polyline points="1103.8,630.7 1117.7,619.7 1131.3,597.3" fill="none" stroke="#dcae2d" stroke-width="2.4" stroke-linejoin="round"/>
<g fill="#dcae2d"><circle cx="1103.8" cy="630.7" r="3.3"/><circle cx="1117.7" cy="619.7" r="3.3"/><circle cx="1131.3" cy="597.3" r="3.3"/></g>
<g fill="#000">
<polygon points="1123.8,770.2 1123.8,785.6 1139.2,777.9"/>
<rect x="1123.4" y="629.8" width="15.4" height="15.4"/>
</g>
<rect x="632" y="584" width="523.2" height="293.9" fill="none" stroke="#000" stroke-width="1.3"/>
<path d="M723.4 877.9v5.0M859.4 877.9v5.0M995.4 877.9v5.0M1131.4 877.9v5.0M632 598.2h-5.0M632 689.1h-5.0M632 779.9h-5.0M632 870.8h-5.0" stroke="#000" stroke-width="1.3" fill="none"/>
<g font-size="27.4" text-anchor="middle">
<text x="723.4" y="908.7">1990</text>
<text x="859.4" y="908.7">2000</text>
<text x="995.4" y="908.7">2010</text>
<text x="1131.4" y="908.7">2020</text>
</g>
<g font-size="27.4" text-anchor="end">
<text x="622.5" y="608.3">3</text>
<text x="622.5" y="699.2">2</text>
<text x="622.5" y="790">1</text>
<text x="622.5" y="880.9">0</text>
</g>
<text x="893" y="576" font-size="33.7" text-anchor="middle">Asia</text>
<text x="632" y="576" font-size="26.8" font-weight="bold">c</text>
</g>
<g>
<polyline points="1450.6,776.7 1464.2,776.6 1477.8,776.5 1491.4,776.4 1505,776.3 1518.6,776.2 1532.2,776.1 1545.8,776 1559.4,775.9 1573,775.8 1586.6,775.6 1600.2,775.5 1613.8,775.3 1627.4,775.2 1641,775 1654.6,774.8 1668.2,774.7 1681.8,774.5 1695.4,774.4 1709,774.2" fill="none" stroke="#45ae83" stroke-width="2.4" stroke-linejoin="round" stroke-linecap="butt"/>
<g fill="#45ae83"><circle cx="1450.6" cy="776.7" r="3.3"/><circle cx="1464.2" cy="776.6" r="3.3"/><circle cx="1477.8" cy="776.5" r="3.3"/><circle cx="1491.4" cy="776.4" r="3.3"/><circle cx="1505" cy="776.3" r="3.3"/><circle cx="1518.6" cy="776.2" r="3.3"/><circle cx="1532.2" cy="776.1" r="3.3"/><circle cx="1545.8" cy="776" r="3.3"/><circle cx="1559.4" cy="775.9" r="3.3"/><circle cx="1573" cy="775.8" r="3.3"/><circle cx="1586.6" cy="775.6" r="3.3"/><circle cx="1600.2" cy="775.5" r="3.3"/><circle cx="1613.8" cy="775.3" r="3.3"/><circle cx="1627.4" cy="775.2" r="3.3"/><circle cx="1641" cy="775" r="3.3"/><circle cx="1654.6" cy="774.8" r="3.3"/><circle cx="1668.2" cy="774.7" r="3.3"/><circle cx="1681.8" cy="774.5" r="3.3"/><circle cx="1695.4" cy="774.4" r="3.3"/><circle cx="1709" cy="774.2" r="3.3"/></g>
<polyline points="1328.2,814.1 1341.8,812.6 1355.4,810.7 1369,809 1382.6,807.2 1396.2,804.9 1409.8,802.9 1423.4,800.2 1437,797.9 1450.6,791 1464.2,781.9 1477.8,773 1491.4,761.3 1505,760.1 1518.6,758.8 1532.2,757.6 1545.8,755.9 1559.4,754.9 1573,753.5 1586.6,753.5 1600.2,752.2 1613.8,751 1627.4,749.3 1641,748.6 1654.6,747.8 1668.2,747.4 1681.8,746.6 1695.4,746.1 1709,746.1" fill="none" stroke="#dc6520" stroke-width="2.4" stroke-linejoin="round" stroke-linecap="butt"/>
<g fill="#dc6520"><circle cx="1328.2" cy="814.1" r="3.3"/><circle cx="1341.8" cy="812.6" r="3.3"/><circle cx="1355.4" cy="810.7" r="3.3"/><circle cx="1369" cy="809" r="3.3"/><circle cx="1382.6" cy="807.2" r="3.3"/><circle cx="1396.2" cy="804.9" r="3.3"/><circle cx="1409.8" cy="802.9" r="3.3"/><circle cx="1423.4" cy="800.2" r="3.3"/><circle cx="1437" cy="797.9" r="3.3"/><circle cx="1450.6" cy="791" r="3.3"/><circle cx="1464.2" cy="781.9" r="3.3"/><circle cx="1477.8" cy="773" r="3.3"/><circle cx="1491.4" cy="761.3" r="3.3"/><circle cx="1505" cy="760.1" r="3.3"/><circle cx="1518.6" cy="758.8" r="3.3"/><circle cx="1532.2" cy="757.6" r="3.3"/><circle cx="1545.8" cy="755.9" r="3.3"/><circle cx="1559.4" cy="754.9" r="3.3"/><circle cx="1573" cy="753.5" r="3.3"/><circle cx="1586.6" cy="753.5" r="3.3"/><circle cx="1600.2" cy="752.2" r="3.3"/><circle cx="1613.8" cy="751" r="3.3"/><circle cx="1627.4" cy="749.3" r="3.3"/><circle cx="1641" cy="748.6" r="3.3"/><circle cx="1654.6" cy="747.8" r="3.3"/><circle cx="1668.2" cy="747.4" r="3.3"/><circle cx="1681.8" cy="746.6" r="3.3"/><circle cx="1695.4" cy="746.1" r="3.3"/><circle cx="1709" cy="746.1" r="3.3"/></g>
<polyline points="1233,866.1 1246.6,863.5 1260.2,862.3 1273.8,861.2 1287.4,860.4 1301,856.9 1314.6,855.5 1328.2,854.7 1341.8,853.9 1355.4,853 1369,852.2 1382.6,851.6 1396.2,850.8 1409.8,850.1 1423.4,849.1 1437,847.7 1450.6,847.3 1464.2,846.4 1477.8,845.6 1491.4,844.7 1505,843.9 1518.6,843.4 1532.2,842.9 1545.8,842.4 1559.4,841.9 1573,840.9 1586.6,845.1 1600.2,839.7 1613.8,838.2 1627.4,835.8 1641,838.5 1654.6,829.9 1668.2,828.5 1681.8,834.1" fill="none" stroke="#000000" stroke-width="2.4" stroke-linejoin="round" stroke-linecap="butt"/>
<g fill="#000000"><circle cx="1233" cy="866.1" r="3.3"/><circle cx="1246.6" cy="863.5" r="3.3"/><circle cx="1260.2" cy="862.3" r="3.3"/><circle cx="1273.8" cy="861.2" r="3.3"/><circle cx="1287.4" cy="860.4" r="3.3"/><circle cx="1301" cy="856.9" r="3.3"/><circle cx="1314.6" cy="855.5" r="3.3"/><circle cx="1328.2" cy="854.7" r="3.3"/><circle cx="1341.8" cy="853.9" r="3.3"/><circle cx="1355.4" cy="853" r="3.3"/><circle cx="1369" cy="852.2" r="3.3"/><circle cx="1382.6" cy="851.6" r="3.3"/><circle cx="1396.2" cy="850.8" r="3.3"/><circle cx="1409.8" cy="850.1" r="3.3"/><circle cx="1423.4" cy="849.1" r="3.3"/><circle cx="1437" cy="847.7" r="3.3"/><circle cx="1450.6" cy="847.3" r="3.3"/><circle cx="1464.2" cy="846.4" r="3.3"/><circle cx="1477.8" cy="845.6" r="3.3"/><circle cx="1491.4" cy="844.7" r="3.3"/><circle cx="1505" cy="843.9" r="3.3"/><circle cx="1518.6" cy="843.4" r="3.3"/><circle cx="1532.2" cy="842.9" r="3.3"/><circle cx="1545.8" cy="842.4" r="3.3"/><circle cx="1559.4" cy="841.9" r="3.3"/><circle cx="1573" cy="840.9" r="3.3"/><circle cx="1586.6" cy="845.1" r="3.3"/><circle cx="1600.2" cy="839.7" r="3.3"/><circle cx="1613.8" cy="838.2" r="3.3"/><circle cx="1627.4" cy="835.8" r="3.3"/><circle cx="1641" cy="838.5" r="3.3"/><circle cx="1654.6" cy="829.9" r="3.3"/><circle cx="1668.2" cy="828.5" r="3.3"/><circle cx="1681.8" cy="834.1" r="3.3"/></g>
<polyline points="1233,849.9 1246.6,849.9 1260.2,849.3 1273.8,848.5 1287.4,847.7 1301,847 1314.6,846.1 1328.2,845.3 1341.8,844.7 1355.4,843.7 1369,843 1382.6,842.3 1396.2,841.9 1409.8,841.1 1423.4,840.3 1437,839.9 1450.6,839.3 1464.2,838.9 1477.8,838.4 1491.4,837.9 1505,837.4 1518.6,836.8 1532.2,836.3 1545.8,835.8 1559.4,835.3 1573,834.8 1586.6,834.2 1600.2,833.5 1613.8,832.9 1627.4,832.2 1641,831.6 1654.6,831 1668.2,830.4 1681.8,829.8 1695.4,829.2" fill="none" stroke="#7870b8" stroke-width="2.4" stroke-linejoin="round" stroke-linecap="butt"/>
<g fill="#7870b8"><circle cx="1233" cy="849.9" r="3.3"/><circle cx="1246.6" cy="849.9" r="3.3"/><circle cx="1260.2" cy="849.3" r="3.3"/><circle cx="1273.8" cy="848.5" r="3.3"/><circle cx="1287.4" cy="847.7" r="3.3"/><circle cx="1301" cy="847" r="3.3"/><circle cx="1314.6" cy="846.1" r="3.3"/><circle cx="1328.2" cy="845.3" r="3.3"/><circle cx="1341.8" cy="844.7" r="3.3"/><circle cx="1355.4" cy="843.7" r="3.3"/><circle cx="1369" cy="843" r="3.3"/><circle cx="1382.6" cy="842.3" r="3.3"/><circle cx="1396.2" cy="841.9" r="3.3"/><circle cx="1409.8" cy="841.1" r="3.3"/><circle cx="1423.4" cy="840.3" r="3.3"/><circle cx="1437" cy="839.9" r="3.3"/><circle cx="1450.6" cy="839.3" r="3.3"/><circle cx="1464.2" cy="838.9" r="3.3"/><circle cx="1477.8" cy="838.4" r="3.3"/><circle cx="1491.4" cy="837.9" r="3.3"/><circle cx="1505" cy="837.4" r="3.3"/><circle cx="1518.6" cy="836.8" r="3.3"/><circle cx="1532.2" cy="836.3" r="3.3"/><circle cx="1545.8" cy="835.8" r="3.3"/><circle cx="1559.4" cy="835.3" r="3.3"/><circle cx="1573" cy="834.8" r="3.3"/><circle cx="1586.6" cy="834.2" r="3.3"/><circle cx="1600.2" cy="833.5" r="3.3"/><circle cx="1613.8" cy="832.9" r="3.3"/><circle cx="1627.4" cy="832.2" r="3.3"/><circle cx="1641" cy="831.6" r="3.3"/><circle cx="1654.6" cy="831" r="3.3"/><circle cx="1668.2" cy="830.4" r="3.3"/><circle cx="1681.8" cy="829.8" r="3.3"/><circle cx="1695.4" cy="829.2" r="3.3"/></g>
<polyline points="1233,832.9 1246.6,832.3 1260.2,830.5 1273.8,829.2 1287.4,827.7 1301,826.1 1314.6,824.9 1328.2,823.7 1341.8,822.3 1355.4,821.1 1369,819.5 1382.6,818.4 1396.2,817.5 1409.8,816.4 1423.4,814.9 1437,813.8 1450.6,813 1464.2,812.4 1477.8,810.8 1491.4,809.3 1505,807.7 1518.6,806.6 1532.2,805.5 1545.8,804.5 1559.4,803.4 1573,802.3 1586.6,801 1600.2,799.8 1613.8,798.5 1627.4,796.3 1641,794.3" fill="none" stroke="#ea339d" stroke-width="2.4" stroke-linejoin="round" stroke-linecap="butt"/>
<g fill="#ea339d"><circle cx="1233" cy="832.9" r="3.3"/><circle cx="1246.6" cy="832.3" r="3.3"/><circle cx="1260.2" cy="830.5" r="3.3"/><circle cx="1273.8" cy="829.2" r="3.3"/><circle cx="1287.4" cy="827.7" r="3.3"/><circle cx="1301" cy="826.1" r="3.3"/><circle cx="1314.6" cy="824.9" r="3.3"/><circle cx="1328.2" cy="823.7" r="3.3"/><circle cx="1341.8" cy="822.3" r="3.3"/><circle cx="1355.4" cy="821.1" r="3.3"/><circle cx="1369" cy="819.5" r="3.3"/><circle cx="1382.6" cy="818.4" r="3.3"/><circle cx="1396.2" cy="817.5" r="3.3"/><circle cx="1409.8" cy="816.4" r="3.3"/><circle cx="1423.4" cy="814.9" r="3.3"/><circle cx="1437" cy="813.8" r="3.3"/><circle cx="1450.6" cy="813" r="3.3"/><circle cx="1464.2" cy="812.4" r="3.3"/><circle cx="1477.8" cy="810.8" r="3.3"/><circle cx="1491.4" cy="809.3" r="3.3"/><circle cx="1505" cy="807.7" r="3.3"/><circle cx="1518.6" cy="806.6" r="3.3"/><circle cx="1532.2" cy="805.5" r="3.3"/><circle cx="1545.8" cy="804.5" r="3.3"/><circle cx="1559.4" cy="803.4" r="3.3"/><circle cx="1573" cy="802.3" r="3.3"/><circle cx="1586.6" cy="801" r="3.3"/><circle cx="1600.2" cy="799.8" r="3.3"/><circle cx="1613.8" cy="798.5" r="3.3"/><circle cx="1627.4" cy="796.3" r="3.3"/><circle cx="1641" cy="794.3" r="3.3"/></g>
<polyline points="1641,800.6 1654.6,800.6 1668.2,800.6 1681.8,800.6 1695.4,800.6" fill="none" stroke="#6db52d" stroke-width="2.4" stroke-linejoin="round" stroke-linecap="butt"/>
<g fill="#6db52d"><circle cx="1641" cy="800.6" r="3.3"/><circle cx="1654.6" cy="800.6" r="3.3"/><circle cx="1668.2" cy="800.6" r="3.3"/><circle cx="1681.8" cy="800.6" r="3.3"/><circle cx="1695.4" cy="800.6" r="3.3"/></g>
<g fill="#000">
<circle cx="1572.9" cy="753.5" r="7.7"/>
<polygon points="1633.1,673.1 1648.5,673.1 1640.8,688.5"/>
<polygon points="1687.5,787.5 1702.9,787.5 1695.2,802.9"/>
<polygon points="1675.6,736.6 1675.6,752 1660.2,744.3"/>
</g>
<polyline points="1681.1,718.3 1694.8,719.3 1708.7,714.4" fill="none" stroke="#dcae2d" stroke-width="2.4" stroke-linejoin="round"/>
<g fill="#dcae2d"><circle cx="1681.1" cy="718.3" r="3.3"/><circle cx="1694.8" cy="719.3" r="3.3"/><circle cx="1708.7" cy="714.4" r="3.3"/></g>
<g fill="#000">
<polygon points="1701.3,771.9 1701.3,787.3 1716.7,779.6"/>
<rect x="1701" y="590.9" width="15.4" height="15.4"/>
</g>
<rect x="1209.7" y="585.5" width="522.7" height="294" fill="none" stroke="#000" stroke-width="1.3"/>
<path d="M1301 879.5v5.0M1437 879.5v5.0M1572.9 879.5v5.0M1708.8 879.5v5.0M1209.7 599.9h-5.0M1209.7 669.9h-5.0M1209.7 739.8h-5.0M1209.7 809.6h-5.0" stroke="#000" stroke-width="1.3" fill="none"/>
<g font-size="27.4" text-anchor="middle">
<text x="1301" y="910.2">1990</text>
<text x="1437" y="910.2">2000</text>
<text x="1572.9" y="910.2">2010</text>
<text x="1708.8" y="910.2">2020</text>
</g>
<g font-size="27.4" text-anchor="end">
<text x="1200.5" y="610">4</text>
<text x="1200.5" y="680">3</text>
<text x="1200.5" y="749.9">2</text>
<text x="1200.5" y="819.7">1</text>
</g>
<text x="1471" y="578" font-size="33.7" text-anchor="middle">Europe</text>
<text x="1210" y="577" font-size="26.8" font-weight="bold">d</text>
</g>
<g>
<polyline points="320.8,1214.3 332.6,1213.9 344.4,1213.4 356.3,1212.5 368.1,1211.6 379.9,1211.6 391.8,1211.6 403.6,1211.6 415.4,1211.6 427.2,1211.6 439.1,1211.3 450.9,1211 462.7,1210.8 474.6,1210.5 486.4,1210.2 498.2,1209.9 510.1,1209.7 521.9,1209.4 533.7,1209.2 545.5,1208.9" fill="none" stroke="#45ae83" stroke-width="2.4" stroke-linejoin="round" stroke-linecap="butt"/>
<g fill="#45ae83"><circle cx="320.8" cy="1214.3" r="3.3"/><circle cx="332.6" cy="1213.9" r="3.3"/><circle cx="344.4" cy="1213.4" r="3.3"/><circle cx="356.3" cy="1212.5" r="3.3"/><circle cx="368.1" cy="1211.6" r="3.3"/><circle cx="379.9" cy="1211.6" r="3.3"/><circle cx="391.8" cy="1211.6" r="3.3"/><circle cx="403.6" cy="1211.6" r="3.3"/><circle cx="415.4" cy="1211.6" r="3.3"/><circle cx="427.2" cy="1211.6" r="3.3"/><circle cx="439.1" cy="1211.3" r="3.3"/><circle cx="450.9" cy="1211" r="3.3"/><circle cx="462.7" cy="1210.8" r="3.3"/><circle cx="474.6" cy="1210.5" r="3.3"/><circle cx="486.4" cy="1210.2" r="3.3"/><circle cx="498.2" cy="1209.9" r="3.3"/><circle cx="510.1" cy="1209.7" r="3.3"/><circle cx="521.9" cy="1209.4" r="3.3"/><circle cx="533.7" cy="1209.2" r="3.3"/><circle cx="545.5" cy="1208.9" r="3.3"/></g>
<polyline points="214.3,1248.6 226.1,1246.6 238,1244.5 249.8,1243.1 261.6,1241.1 273.5,1239.7 285.3,1238.3 297.1,1237 308.9,1235.3 320.8,1231.9 332.6,1228.7 344.4,1227.4 356.3,1225.7 368.1,1223.9 379.9,1221.8 391.8,1219.8 403.6,1218.1 415.4,1216.4 427.2,1215 439.1,1213.4 450.9,1210.9 462.7,1207.5 474.6,1204.7 486.4,1203.4 498.2,1202 510.1,1199.9 521.9,1198.6 533.7,1198.2 545.5,1198.2" fill="none" stroke="#dc6520" stroke-width="2.4" stroke-linejoin="round" stroke-linecap="butt"/>
<g fill="#dc6520"><circle cx="214.3" cy="1248.6" r="3.3"/><circle cx="226.1" cy="1246.6" r="3.3"/><circle cx="238" cy="1244.5" r="3.3"/><circle cx="249.8" cy="1243.1" r="3.3"/><circle cx="261.6" cy="1241.1" r="3.3"/><circle cx="273.5" cy="1239.7" r="3.3"/><circle cx="285.3" cy="1238.3" r="3.3"/><circle cx="297.1" cy="1237" r="3.3"/><circle cx="308.9" cy="1235.3" r="3.3"/><circle cx="320.8" cy="1231.9" r="3.3"/><circle cx="332.6" cy="1228.7" r="3.3"/><circle cx="344.4" cy="1227.4" r="3.3"/><circle cx="356.3" cy="1225.7" r="3.3"/><circle cx="368.1" cy="1223.9" r="3.3"/><circle cx="379.9" cy="1221.8" r="3.3"/><circle cx="391.8" cy="1219.8" r="3.3"/><circle cx="403.6" cy="1218.1" r="3.3"/><circle cx="415.4" cy="1216.4" r="3.3"/><circle cx="427.2" cy="1215" r="3.3"/><circle cx="439.1" cy="1213.4" r="3.3"/><circle cx="450.9" cy="1210.9" r="3.3"/><circle cx="462.7" cy="1207.5" r="3.3"/><circle cx="474.6" cy="1204.7" r="3.3"/><circle cx="486.4" cy="1203.4" r="3.3"/><circle cx="498.2" cy="1202" r="3.3"/><circle cx="510.1" cy="1199.9" r="3.3"/><circle cx="521.9" cy="1198.6" r="3.3"/><circle cx="533.7" cy="1198.2" r="3.3"/><circle cx="545.5" cy="1198.2" r="3.3"/></g>
<polyline points="131.5,1254.1 143.3,1250.4 155.2,1246.6 167,1243.8 178.8,1241.8 190.7,1238.3 202.5,1233.5 214.3,1231.5 226.1,1229.8 238,1227.4 249.8,1225.6 261.6,1223.3 273.5,1221.2 285.3,1218.9 297.1,1217.1 308.9,1214.8 320.8,1213.4 332.6,1212 344.4,1210.9 356.3,1208.8 368.1,1206.8 379.9,1205.1 391.8,1203.4 403.6,1201.7 415.4,1200 427.2,1198.3 439.1,1197 450.9,1195.8 462.7,1193.8 474.6,1188.4 486.4,1182.8 498.2,1178.3 510.1,1176.6 521.9,1175.3" fill="none" stroke="#000000" stroke-width="2.4" stroke-linejoin="round" stroke-linecap="butt"/>
<g fill="#000000"><circle cx="131.5" cy="1254.1" r="3.3"/><circle cx="143.3" cy="1250.4" r="3.3"/><circle cx="155.2" cy="1246.6" r="3.3"/><circle cx="167" cy="1243.8" r="3.3"/><circle cx="178.8" cy="1241.8" r="3.3"/><circle cx="190.7" cy="1238.3" r="3.3"/><circle cx="202.5" cy="1233.5" r="3.3"/><circle cx="214.3" cy="1231.5" r="3.3"/><circle cx="226.1" cy="1229.8" r="3.3"/><circle cx="238" cy="1227.4" r="3.3"/><circle cx="249.8" cy="1225.6" r="3.3"/><circle cx="261.6" cy="1223.3" r="3.3"/><circle cx="273.5" cy="1221.2" r="3.3"/><circle cx="285.3" cy="1218.9" r="3.3"/><circle cx="297.1" cy="1217.1" r="3.3"/><circle cx="308.9" cy="1214.8" r="3.3"/><circle cx="320.8" cy="1213.4" r="3.3"/><circle cx="332.6" cy="1212" r="3.3"/><circle cx="344.4" cy="1210.9" r="3.3"/><circle cx="356.3" cy="1208.8" r="3.3"/><circle cx="368.1" cy="1206.8" r="3.3"/><circle cx="379.9" cy="1205.1" r="3.3"/><circle cx="391.8" cy="1203.4" r="3.3"/><circle cx="403.6" cy="1201.7" r="3.3"/><circle cx="415.4" cy="1200" r="3.3"/><circle cx="427.2" cy="1198.3" r="3.3"/><circle cx="439.1" cy="1197" r="3.3"/><circle cx="450.9" cy="1195.8" r="3.3"/><circle cx="462.7" cy="1193.8" r="3.3"/><circle cx="474.6" cy="1188.4" r="3.3"/><circle cx="486.4" cy="1182.8" r="3.3"/><circle cx="498.2" cy="1178.3" r="3.3"/><circle cx="510.1" cy="1176.6" r="3.3"/><circle cx="521.9" cy="1175.3" r="3.3"/></g>
<polyline points="131.5,1249.3 143.3,1249 155.2,1247.9 167,1247 178.8,1245.9 190.7,1243.6 202.5,1242.2 214.3,1240.1 226.1,1238.3 238,1236.3 249.8,1234.9 261.6,1232.9 273.5,1231.2 285.3,1229.7 297.1,1227.6 308.9,1225.7 320.8,1224.4 332.6,1223 344.4,1221 356.3,1219.2 368.1,1217.5 379.9,1215.9 391.8,1214.3 403.6,1213.4 415.4,1212.5 427.2,1211.6 439.1,1210.9 450.9,1210.2 462.7,1208.2 474.6,1206.5 486.4,1205.7 498.2,1204.7 510.1,1203.4 521.9,1200.6 533.7,1199.3" fill="none" stroke="#7870b8" stroke-width="2.4" stroke-linejoin="round" stroke-linecap="butt"/>
<g fill="#7870b8"><circle cx="131.5" cy="1249.3" r="3.3"/><circle cx="143.3" cy="1249" r="3.3"/><circle cx="155.2" cy="1247.9" r="3.3"/><circle cx="167" cy="1247" r="3.3"/><circle cx="178.8" cy="1245.9" r="3.3"/><circle cx="190.7" cy="1243.6" r="3.3"/><circle cx="202.5" cy="1242.2" r="3.3"/><circle cx="214.3" cy="1240.1" r="3.3"/><circle cx="226.1" cy="1238.3" r="3.3"/><circle cx="238" cy="1236.3" r="3.3"/><circle cx="249.8" cy="1234.9" r="3.3"/><circle cx="261.6" cy="1232.9" r="3.3"/><circle cx="273.5" cy="1231.2" r="3.3"/><circle cx="285.3" cy="1229.7" r="3.3"/><circle cx="297.1" cy="1227.6" r="3.3"/><circle cx="308.9" cy="1225.7" r="3.3"/><circle cx="320.8" cy="1224.4" r="3.3"/><circle cx="332.6" cy="1223" r="3.3"/><circle cx="344.4" cy="1221" r="3.3"/><circle cx="356.3" cy="1219.2" r="3.3"/><circle cx="368.1" cy="1217.5" r="3.3"/><circle cx="379.9" cy="1215.9" r="3.3"/><circle cx="391.8" cy="1214.3" r="3.3"/><circle cx="403.6" cy="1213.4" r="3.3"/><circle cx="415.4" cy="1212.5" r="3.3"/><circle cx="427.2" cy="1211.6" r="3.3"/><circle cx="439.1" cy="1210.9" r="3.3"/><circle cx="450.9" cy="1210.2" r="3.3"/><circle cx="462.7" cy="1208.2" r="3.3"/><circle cx="474.6" cy="1206.5" r="3.3"/><circle cx="486.4" cy="1205.7" r="3.3"/><circle cx="498.2" cy="1204.7" r="3.3"/><circle cx="510.1" cy="1203.4" r="3.3"/><circle cx="521.9" cy="1200.6" r="3.3"/><circle cx="533.7" cy="1199.3" r="3.3"/></g>
<polyline points="131.5,1243.3 143.3,1241.5 155.2,1239.7 167,1237.8 178.8,1236 190.7,1234.2 202.5,1232.1 214.3,1230.1 226.1,1228 238,1226 249.8,1223.9 261.6,1221.8 273.5,1219.7 285.3,1217.6 297.1,1215.5 308.9,1213.4 320.8,1211.7 332.6,1209.9 344.4,1208.2 356.3,1206 368.1,1203.8 379.9,1202.2 391.8,1200.6 403.6,1199 415.4,1197.4 427.2,1195.8 439.1,1194.4 450.9,1193.1 462.7,1191.7 474.6,1189.9 486.4,1188" fill="none" stroke="#ea339d" stroke-width="2.4" stroke-linejoin="round" stroke-linecap="butt"/>
<g fill="#ea339d"><circle cx="131.5" cy="1243.3" r="3.3"/><circle cx="143.3" cy="1241.5" r="3.3"/><circle cx="155.2" cy="1239.7" r="3.3"/><circle cx="167" cy="1237.8" r="3.3"/><circle cx="178.8" cy="1236" r="3.3"/><circle cx="190.7" cy="1234.2" r="3.3"/><circle cx="202.5" cy="1232.1" r="3.3"/><circle cx="214.3" cy="1230.1" r="3.3"/><circle cx="226.1" cy="1228" r="3.3"/><circle cx="238" cy="1226" r="3.3"/><circle cx="249.8" cy="1223.9" r="3.3"/><circle cx="261.6" cy="1221.8" r="3.3"/><circle cx="273.5" cy="1219.7" r="3.3"/><circle cx="285.3" cy="1217.6" r="3.3"/><circle cx="297.1" cy="1215.5" r="3.3"/><circle cx="308.9" cy="1213.4" r="3.3"/><circle cx="320.8" cy="1211.7" r="3.3"/><circle cx="332.6" cy="1209.9" r="3.3"/><circle cx="344.4" cy="1208.2" r="3.3"/><circle cx="356.3" cy="1206" r="3.3"/><circle cx="368.1" cy="1203.8" r="3.3"/><circle cx="379.9" cy="1202.2" r="3.3"/><circle cx="391.8" cy="1200.6" r="3.3"/><circle cx="403.6" cy="1199" r="3.3"/><circle cx="415.4" cy="1197.4" r="3.3"/><circle cx="427.2" cy="1195.8" r="3.3"/><circle cx="439.1" cy="1194.4" r="3.3"/><circle cx="450.9" cy="1193.1" r="3.3"/><circle cx="462.7" cy="1191.7" r="3.3"/><circle cx="474.6" cy="1189.9" r="3.3"/><circle cx="486.4" cy="1188" r="3.3"/></g>
<polyline points="486.4,1198.3 498.2,1197.6 510.1,1194.9 521.9,1194.5 533.7,1194" fill="none" stroke="#6db52d" stroke-width="2.4" stroke-linejoin="round" stroke-linecap="butt"/>
<g fill="#6db52d"><circle cx="486.4" cy="1198.3" r="3.3"/><circle cx="498.2" cy="1197.6" r="3.3"/><circle cx="510.1" cy="1194.9" r="3.3"/><circle cx="521.9" cy="1194.5" r="3.3"/><circle cx="533.7" cy="1194" r="3.3"/></g>
<g fill="#000">
<circle cx="427.1" cy="1220.5" r="7.7"/>
<polygon points="478.4,1176.8 493.8,1176.8 486.1,1192.2"/>
<polygon points="525.9,1225.7 541.3,1225.7 533.6,1241.1"/>
<polygon points="517.9,1173.6 517.9,1189 502.5,1181.3"/>
</g>
<polyline points="521.8,1007.4 533.8,1003.7 545.5,987.5" fill="none" stroke="#dcae2d" stroke-width="2.4" stroke-linejoin="round"/>
<g fill="#dcae2d"><circle cx="521.8" cy="1007.4" r="3.3"/><circle cx="533.8" cy="1003.7" r="3.3"/><circle cx="545.5" cy="987.5" r="3.3"/></g>
<g fill="#000">
<polygon points="538.3,1209.6 538.3,1225 553.7,1217.3"/>
<rect x="537.8" y="1071.7" width="15.4" height="15.4"/>
</g>
<rect x="110.8" y="973.5" width="455.7" height="293" fill="none" stroke="#000" stroke-width="1.3"/>
<path d="M190.7 1266.5v5.0M309 1266.5v5.0M427.1 1266.5v5.0M545.4 1266.5v5.0M110.8 1015h-5.0M110.8 1088.3h-5.0M110.8 1161.5h-5.0M110.8 1235h-5.0" stroke="#000" stroke-width="1.3" fill="none"/>
<g font-size="27.4" text-anchor="middle">
<text x="190.7" y="1297">1990</text>
<text x="309" y="1297">2000</text>
<text x="427.1" y="1297">2010</text>
<text x="545.4" y="1297">2020</text>
</g>
<g font-size="27.4" text-anchor="end">
<text x="101" y="1025.1">2.0</text>
<text x="101" y="1098.4">1.5</text>
<text x="101" y="1171.6">1.0</text>
<text x="101" y="1245.1">0.5</text>
</g>
<text x="338" y="966" font-size="33.7" text-anchor="middle">North America</text>
<text x="111" y="966" font-size="26.8" font-weight="bold">e</text>
<text transform="translate(44.8 1121) rotate(-90)" font-size="34.3" text-anchor="middle">Urban percentage (%)</text>
</g>
<g>
<polyline points="875,1177.2 887.9,1177 900.7,1176.7 913.6,1176.5 926.5,1176.3 939.4,1176.1 952.3,1175.8 965.1,1175.6 978,1175.4 990.9,1175.2 1003.8,1175 1016.7,1174.7 1029.5,1174.5 1042.4,1174.2 1055.3,1174 1068.2,1173.7 1081.1,1173.4 1093.9,1173.1 1106.8,1172.8 1119.7,1172.5" fill="none" stroke="#45ae83" stroke-width="2.4" stroke-linejoin="round" stroke-linecap="butt"/>
<g fill="#45ae83"><circle cx="875" cy="1177.2" r="3.3"/><circle cx="887.9" cy="1177" r="3.3"/><circle cx="900.7" cy="1176.7" r="3.3"/><circle cx="913.6" cy="1176.5" r="3.3"/><circle cx="926.5" cy="1176.3" r="3.3"/><circle cx="939.4" cy="1176.1" r="3.3"/><circle cx="952.3" cy="1175.8" r="3.3"/><circle cx="965.1" cy="1175.6" r="3.3"/><circle cx="978" cy="1175.4" r="3.3"/><circle cx="990.9" cy="1175.2" r="3.3"/><circle cx="1003.8" cy="1175" r="3.3"/><circle cx="1016.7" cy="1174.7" r="3.3"/><circle cx="1029.5" cy="1174.5" r="3.3"/><circle cx="1042.4" cy="1174.2" r="3.3"/><circle cx="1055.3" cy="1174" r="3.3"/><circle cx="1068.2" cy="1173.7" r="3.3"/><circle cx="1081.1" cy="1173.4" r="3.3"/><circle cx="1093.9" cy="1173.1" r="3.3"/><circle cx="1106.8" cy="1172.8" r="3.3"/><circle cx="1119.7" cy="1172.5" r="3.3"/></g>
<polyline points="759.1,1189.9 771.9,1188 784.8,1186.5 797.7,1184 810.6,1182.8 823.5,1181 836.3,1179.1 849.2,1177.6 862.1,1175.4 875,1170.2 887.9,1167.6 900.7,1166 913.6,1165.1 926.5,1162.1 939.4,1160.2 952.3,1158.7 965.1,1158 978,1156.9 990.9,1156.2 1003.8,1155.7 1016.7,1155.4 1029.5,1155 1042.4,1154.4 1055.3,1152.5 1068.2,1151.7 1081.1,1151.3 1093.9,1150.7 1106.8,1149.5 1119.7,1149.2" fill="none" stroke="#dc6520" stroke-width="2.4" stroke-linejoin="round" stroke-linecap="butt"/>
<g fill="#dc6520"><circle cx="759.1" cy="1189.9" r="3.3"/><circle cx="771.9" cy="1188" r="3.3"/><circle cx="784.8" cy="1186.5" r="3.3"/><circle cx="797.7" cy="1184" r="3.3"/><circle cx="810.6" cy="1182.8" r="3.3"/><circle cx="823.5" cy="1181" r="3.3"/><circle cx="836.3" cy="1179.1" r="3.3"/><circle cx="849.2" cy="1177.6" r="3.3"/><circle cx="862.1" cy="1175.4" r="3.3"/><circle cx="875" cy="1170.2" r="3.3"/><circle cx="887.9" cy="1167.6" r="3.3"/><circle cx="900.7" cy="1166" r="3.3"/><circle cx="913.6" cy="1165.1" r="3.3"/><circle cx="926.5" cy="1162.1" r="3.3"/><circle cx="939.4" cy="1160.2" r="3.3"/><circle cx="952.3" cy="1158.7" r="3.3"/><circle cx="965.1" cy="1158" r="3.3"/><circle cx="978" cy="1156.9" r="3.3"/><circle cx="990.9" cy="1156.2" r="3.3"/><circle cx="1003.8" cy="1155.7" r="3.3"/><circle cx="1016.7" cy="1155.4" r="3.3"/><circle cx="1029.5" cy="1155" r="3.3"/><circle cx="1042.4" cy="1154.4" r="3.3"/><circle cx="1055.3" cy="1152.5" r="3.3"/><circle cx="1068.2" cy="1151.7" r="3.3"/><circle cx="1081.1" cy="1151.3" r="3.3"/><circle cx="1093.9" cy="1150.7" r="3.3"/><circle cx="1106.8" cy="1149.5" r="3.3"/><circle cx="1119.7" cy="1149.2" r="3.3"/></g>
<polyline points="668.9,1254.6 681.8,1254.6 694.7,1242.7 707.5,1229.6 720.4,1227.4 733.3,1221.9 746.2,1220.2 759.1,1218.5 771.9,1217.3 784.8,1215.8 797.7,1214.3 810.6,1213 823.5,1212.1 836.3,1211.3 849.2,1210.3 862.1,1203.6 875,1202.1 887.9,1200.6 900.7,1199.7 913.6,1198.5 926.5,1197.3 939.4,1196.3 952.3,1195.5 965.1,1194.5 978,1193.3 990.9,1192.6 1003.8,1191.8 1016.7,1190.6 1029.5,1188.6 1042.4,1185.1 1055.3,1183.2 1068.2,1179.9 1081.1,1179.2 1093.9,1178" fill="none" stroke="#000000" stroke-width="2.4" stroke-linejoin="round" stroke-linecap="butt"/>
<g fill="#000000"><circle cx="668.9" cy="1254.6" r="3.3"/><circle cx="681.8" cy="1254.6" r="3.3"/><circle cx="694.7" cy="1242.7" r="3.3"/><circle cx="707.5" cy="1229.6" r="3.3"/><circle cx="720.4" cy="1227.4" r="3.3"/><circle cx="733.3" cy="1221.9" r="3.3"/><circle cx="746.2" cy="1220.2" r="3.3"/><circle cx="759.1" cy="1218.5" r="3.3"/><circle cx="771.9" cy="1217.3" r="3.3"/><circle cx="784.8" cy="1215.8" r="3.3"/><circle cx="797.7" cy="1214.3" r="3.3"/><circle cx="810.6" cy="1213" r="3.3"/><circle cx="823.5" cy="1212.1" r="3.3"/><circle cx="836.3" cy="1211.3" r="3.3"/><circle cx="849.2" cy="1210.3" r="3.3"/><circle cx="862.1" cy="1203.6" r="3.3"/><circle cx="875" cy="1202.1" r="3.3"/><circle cx="887.9" cy="1200.6" r="3.3"/><circle cx="900.7" cy="1199.7" r="3.3"/><circle cx="913.6" cy="1198.5" r="3.3"/><circle cx="926.5" cy="1197.3" r="3.3"/><circle cx="939.4" cy="1196.3" r="3.3"/><circle cx="952.3" cy="1195.5" r="3.3"/><circle cx="965.1" cy="1194.5" r="3.3"/><circle cx="978" cy="1193.3" r="3.3"/><circle cx="990.9" cy="1192.6" r="3.3"/><circle cx="1003.8" cy="1191.8" r="3.3"/><circle cx="1016.7" cy="1190.6" r="3.3"/><circle cx="1029.5" cy="1188.6" r="3.3"/><circle cx="1042.4" cy="1185.1" r="3.3"/><circle cx="1055.3" cy="1183.2" r="3.3"/><circle cx="1068.2" cy="1179.9" r="3.3"/><circle cx="1081.1" cy="1179.2" r="3.3"/><circle cx="1093.9" cy="1178" r="3.3"/></g>
<polyline points="668.9,1222.2 681.8,1222.5 694.7,1217 707.5,1215.2 720.4,1212.5 733.3,1210.7 746.2,1209.2 759.1,1207.6 771.9,1205.8 784.8,1204.3 797.7,1202.9 810.6,1201.4 823.5,1200.3 836.3,1199.6 849.2,1191.4 862.1,1189.8 875,1188 887.9,1186.8 900.7,1184.9 913.6,1183.4 926.5,1181.7 939.4,1179.9 952.3,1178.8 965.1,1177.7 978,1176.2 990.9,1174 1003.8,1172.5 1016.7,1171.8 1029.5,1169.8 1042.4,1168.4 1055.3,1167.8 1068.2,1166.9 1081.1,1164.8 1093.9,1163.3 1106.8,1162.4" fill="none" stroke="#7870b8" stroke-width="2.4" stroke-linejoin="round" stroke-linecap="butt"/>
<g fill="#7870b8"><circle cx="668.9" cy="1222.2" r="3.3"/><circle cx="681.8" cy="1222.5" r="3.3"/><circle cx="694.7" cy="1217" r="3.3"/><circle cx="707.5" cy="1215.2" r="3.3"/><circle cx="720.4" cy="1212.5" r="3.3"/><circle cx="733.3" cy="1210.7" r="3.3"/><circle cx="746.2" cy="1209.2" r="3.3"/><circle cx="759.1" cy="1207.6" r="3.3"/><circle cx="771.9" cy="1205.8" r="3.3"/><circle cx="784.8" cy="1204.3" r="3.3"/><circle cx="797.7" cy="1202.9" r="3.3"/><circle cx="810.6" cy="1201.4" r="3.3"/><circle cx="823.5" cy="1200.3" r="3.3"/><circle cx="836.3" cy="1199.6" r="3.3"/><circle cx="849.2" cy="1191.4" r="3.3"/><circle cx="862.1" cy="1189.8" r="3.3"/><circle cx="875" cy="1188" r="3.3"/><circle cx="887.9" cy="1186.8" r="3.3"/><circle cx="900.7" cy="1184.9" r="3.3"/><circle cx="913.6" cy="1183.4" r="3.3"/><circle cx="926.5" cy="1181.7" r="3.3"/><circle cx="939.4" cy="1179.9" r="3.3"/><circle cx="952.3" cy="1178.8" r="3.3"/><circle cx="965.1" cy="1177.7" r="3.3"/><circle cx="978" cy="1176.2" r="3.3"/><circle cx="990.9" cy="1174" r="3.3"/><circle cx="1003.8" cy="1172.5" r="3.3"/><circle cx="1016.7" cy="1171.8" r="3.3"/><circle cx="1029.5" cy="1169.8" r="3.3"/><circle cx="1042.4" cy="1168.4" r="3.3"/><circle cx="1055.3" cy="1167.8" r="3.3"/><circle cx="1068.2" cy="1166.9" r="3.3"/><circle cx="1081.1" cy="1164.8" r="3.3"/><circle cx="1093.9" cy="1163.3" r="3.3"/><circle cx="1106.8" cy="1162.4" r="3.3"/></g>
<polyline points="668.9,1192.9 681.8,1188.4 694.7,1186.1 707.5,1184.7 720.4,1182.8 733.3,1180.9 746.2,1178.8 759.1,1177.2 771.9,1175.4 784.8,1173.9 797.7,1172.1 810.6,1170.6 823.5,1169.4 836.3,1167.9 849.2,1166.5 862.1,1165 875,1162.7 887.9,1161.6 900.7,1159.7 913.6,1158.1 926.5,1156.2 939.4,1154.7 952.3,1152.9 965.1,1151.7 978,1150.2 990.9,1148.7 1003.8,1147.6 1016.7,1146.1 1029.5,1144.3 1042.4,1142.8 1055.3,1142.1" fill="none" stroke="#ea339d" stroke-width="2.4" stroke-linejoin="round" stroke-linecap="butt"/>
<g fill="#ea339d"><circle cx="668.9" cy="1192.9" r="3.3"/><circle cx="681.8" cy="1188.4" r="3.3"/><circle cx="694.7" cy="1186.1" r="3.3"/><circle cx="707.5" cy="1184.7" r="3.3"/><circle cx="720.4" cy="1182.8" r="3.3"/><circle cx="733.3" cy="1180.9" r="3.3"/><circle cx="746.2" cy="1178.8" r="3.3"/><circle cx="759.1" cy="1177.2" r="3.3"/><circle cx="771.9" cy="1175.4" r="3.3"/><circle cx="784.8" cy="1173.9" r="3.3"/><circle cx="797.7" cy="1172.1" r="3.3"/><circle cx="810.6" cy="1170.6" r="3.3"/><circle cx="823.5" cy="1169.4" r="3.3"/><circle cx="836.3" cy="1167.9" r="3.3"/><circle cx="849.2" cy="1166.5" r="3.3"/><circle cx="862.1" cy="1165" r="3.3"/><circle cx="875" cy="1162.7" r="3.3"/><circle cx="887.9" cy="1161.6" r="3.3"/><circle cx="900.7" cy="1159.7" r="3.3"/><circle cx="913.6" cy="1158.1" r="3.3"/><circle cx="926.5" cy="1156.2" r="3.3"/><circle cx="939.4" cy="1154.7" r="3.3"/><circle cx="952.3" cy="1152.9" r="3.3"/><circle cx="965.1" cy="1151.7" r="3.3"/><circle cx="978" cy="1150.2" r="3.3"/><circle cx="990.9" cy="1148.7" r="3.3"/><circle cx="1003.8" cy="1147.6" r="3.3"/><circle cx="1016.7" cy="1146.1" r="3.3"/><circle cx="1029.5" cy="1144.3" r="3.3"/><circle cx="1042.4" cy="1142.8" r="3.3"/><circle cx="1055.3" cy="1142.1" r="3.3"/></g>
<polyline points="1055.3,1157.7 1068.2,1156.9 1081.1,1156.6 1093.9,1156.5 1106.8,1156.2" fill="none" stroke="#6db52d" stroke-width="2.4" stroke-linejoin="round" stroke-linecap="butt"/>
<g fill="#6db52d"><circle cx="1055.3" cy="1157.7" r="3.3"/><circle cx="1068.2" cy="1156.9" r="3.3"/><circle cx="1081.1" cy="1156.6" r="3.3"/><circle cx="1093.9" cy="1156.5" r="3.3"/><circle cx="1106.8" cy="1156.2" r="3.3"/></g>
<g fill="#000">
<circle cx="990.7" cy="1172.8" r="7.7"/>
<polygon points="1047.4,1133.4 1062.8,1133.4 1055.1,1148.8"/>
<polygon points="1098.9,1196.8 1114.3,1196.8 1106.6,1212.2"/>
<polygon points="1088.6,1091.9 1088.6,1107.3 1073.2,1099.6"/>
</g>
<polyline points="1093.6,1010.9 1106.6,1009.8 1119.3,988.2" fill="none" stroke="#dcae2d" stroke-width="2.4" stroke-linejoin="round"/>
<g fill="#dcae2d"><circle cx="1093.6" cy="1010.9" r="3.3"/><circle cx="1106.6" cy="1009.8" r="3.3"/><circle cx="1119.3" cy="988.2" r="3.3"/></g>
<g fill="#000">
<polygon points="1112,1173.4 1112,1188.8 1127.4,1181.1"/>
<rect x="1111.6" y="1037.1" width="15.4" height="15.4"/>
</g>
<rect x="646.8" y="975" width="495.4" height="292.8" fill="none" stroke="#000" stroke-width="1.3"/>
<path d="M733.3 1267.8v5.0M862 1267.8v5.0M990.7 1267.8v5.0M1119.4 1267.8v5.0M646.8 1010.2h-5.0M646.8 1072.6h-5.0M646.8 1135.2h-5.0M646.8 1197.7h-5.0M646.8 1260.4h-5.0" stroke="#000" stroke-width="1.3" fill="none"/>
<g font-size="27.4" text-anchor="middle">
<text x="733.3" y="1298">1990</text>
<text x="862" y="1298">2000</text>
<text x="990.7" y="1298">2010</text>
<text x="1119.4" y="1298">2020</text>
</g>
<g font-size="27.4" text-anchor="end">
<text x="637" y="1020.3">0.4</text>
<text x="637" y="1082.7">0.3</text>
<text x="637" y="1145.3">0.2</text>
<text x="637" y="1207.8">0.1</text>
<text x="637" y="1270.5">0.0</text>
</g>
<text x="894" y="967" font-size="33.7" text-anchor="middle">Oceania</text>
<text x="647" y="967" font-size="26.8" font-weight="bold">f</text>
</g>
<g>
<polyline points="1464.2,1103.7 1477.1,1103.6 1490,1103.5 1502.8,1103.4 1515.7,1103.3 1528.6,1103.2 1541.5,1103.1 1554.3,1103 1567.2,1102.9 1580.1,1102.8 1593,1102.6 1605.8,1102.5 1618.7,1102.3 1631.6,1102.2 1644.5,1102 1657.3,1101.9 1670.2,1101.8 1683.1,1101.6 1696,1101.5 1708.8,1101.3" fill="none" stroke="#45ae83" stroke-width="2.4" stroke-linejoin="round" stroke-linecap="butt"/>
<g fill="#45ae83"><circle cx="1464.2" cy="1103.7" r="3.3"/><circle cx="1477.1" cy="1103.6" r="3.3"/><circle cx="1490" cy="1103.5" r="3.3"/><circle cx="1502.8" cy="1103.4" r="3.3"/><circle cx="1515.7" cy="1103.3" r="3.3"/><circle cx="1528.6" cy="1103.2" r="3.3"/><circle cx="1541.5" cy="1103.1" r="3.3"/><circle cx="1554.3" cy="1103" r="3.3"/><circle cx="1567.2" cy="1102.9" r="3.3"/><circle cx="1580.1" cy="1102.8" r="3.3"/><circle cx="1593" cy="1102.6" r="3.3"/><circle cx="1605.8" cy="1102.5" r="3.3"/><circle cx="1618.7" cy="1102.3" r="3.3"/><circle cx="1631.6" cy="1102.2" r="3.3"/><circle cx="1644.5" cy="1102" r="3.3"/><circle cx="1657.3" cy="1101.9" r="3.3"/><circle cx="1670.2" cy="1101.8" r="3.3"/><circle cx="1683.1" cy="1101.6" r="3.3"/><circle cx="1696" cy="1101.5" r="3.3"/><circle cx="1708.8" cy="1101.3" r="3.3"/></g>
<polyline points="1348.3,1219.7 1361.2,1218.1 1374.1,1216.7 1387,1215.2 1399.8,1213.6 1412.7,1212.1 1425.6,1211.1 1438.5,1209.6 1451.3,1208.1 1464.2,1205.9 1477.1,1203.7 1490,1201.9 1502.8,1199.7 1515.7,1197.4 1528.6,1195.5 1541.5,1193.7 1554.3,1191.9 1567.2,1190.4 1580.1,1189 1593,1187 1605.8,1184.8 1618.7,1180 1631.6,1177.4 1644.5,1175.9 1657.3,1175.6 1670.2,1173.2 1683.1,1171.4 1696,1169.2 1708.8,1168.9" fill="none" stroke="#dc6520" stroke-width="2.4" stroke-linejoin="round" stroke-linecap="butt"/>
<g fill="#dc6520"><circle cx="1348.3" cy="1219.7" r="3.3"/><circle cx="1361.2" cy="1218.1" r="3.3"/><circle cx="1374.1" cy="1216.7" r="3.3"/><circle cx="1387" cy="1215.2" r="3.3"/><circle cx="1399.8" cy="1213.6" r="3.3"/><circle cx="1412.7" cy="1212.1" r="3.3"/><circle cx="1425.6" cy="1211.1" r="3.3"/><circle cx="1438.5" cy="1209.6" r="3.3"/><circle cx="1451.3" cy="1208.1" r="3.3"/><circle cx="1464.2" cy="1205.9" r="3.3"/><circle cx="1477.1" cy="1203.7" r="3.3"/><circle cx="1490" cy="1201.9" r="3.3"/><circle cx="1502.8" cy="1199.7" r="3.3"/><circle cx="1515.7" cy="1197.4" r="3.3"/><circle cx="1528.6" cy="1195.5" r="3.3"/><circle cx="1541.5" cy="1193.7" r="3.3"/><circle cx="1554.3" cy="1191.9" r="3.3"/><circle cx="1567.2" cy="1190.4" r="3.3"/><circle cx="1580.1" cy="1189" r="3.3"/><circle cx="1593" cy="1187" r="3.3"/><circle cx="1605.8" cy="1184.8" r="3.3"/><circle cx="1618.7" cy="1180" r="3.3"/><circle cx="1631.6" cy="1177.4" r="3.3"/><circle cx="1644.5" cy="1175.9" r="3.3"/><circle cx="1657.3" cy="1175.6" r="3.3"/><circle cx="1670.2" cy="1173.2" r="3.3"/><circle cx="1683.1" cy="1171.4" r="3.3"/><circle cx="1696" cy="1169.2" r="3.3"/><circle cx="1708.8" cy="1168.9" r="3.3"/></g>
<polyline points="1258.2,1256.4 1271.1,1251.6 1284,1248.7 1296.8,1247.2 1309.7,1246 1322.6,1241.5 1335.5,1240.5 1348.3,1239.6 1361.2,1238.6 1374.1,1237.5 1387,1236.3 1399.8,1235.2 1412.7,1233.4 1425.6,1231.1 1438.5,1229.4 1451.3,1225.5 1464.2,1224 1477.1,1222.5 1490,1221.3 1502.8,1220.2 1515.7,1219 1528.6,1217.9 1541.5,1217.2 1554.3,1216.3 1567.2,1215.3 1580.1,1213.8 1593,1212 1605.8,1210.4 1618.7,1207.1 1631.6,1201.9 1644.5,1196.7 1657.3,1193 1670.2,1191.2 1683.1,1189.3" fill="none" stroke="#000000" stroke-width="2.4" stroke-linejoin="round" stroke-linecap="butt"/>
<g fill="#000000"><circle cx="1258.2" cy="1256.4" r="3.3"/><circle cx="1271.1" cy="1251.6" r="3.3"/><circle cx="1284" cy="1248.7" r="3.3"/><circle cx="1296.8" cy="1247.2" r="3.3"/><circle cx="1309.7" cy="1246" r="3.3"/><circle cx="1322.6" cy="1241.5" r="3.3"/><circle cx="1335.5" cy="1240.5" r="3.3"/><circle cx="1348.3" cy="1239.6" r="3.3"/><circle cx="1361.2" cy="1238.6" r="3.3"/><circle cx="1374.1" cy="1237.5" r="3.3"/><circle cx="1387" cy="1236.3" r="3.3"/><circle cx="1399.8" cy="1235.2" r="3.3"/><circle cx="1412.7" cy="1233.4" r="3.3"/><circle cx="1425.6" cy="1231.1" r="3.3"/><circle cx="1438.5" cy="1229.4" r="3.3"/><circle cx="1451.3" cy="1225.5" r="3.3"/><circle cx="1464.2" cy="1224" r="3.3"/><circle cx="1477.1" cy="1222.5" r="3.3"/><circle cx="1490" cy="1221.3" r="3.3"/><circle cx="1502.8" cy="1220.2" r="3.3"/><circle cx="1515.7" cy="1219" r="3.3"/><circle cx="1528.6" cy="1217.9" r="3.3"/><circle cx="1541.5" cy="1217.2" r="3.3"/><circle cx="1554.3" cy="1216.3" r="3.3"/><circle cx="1567.2" cy="1215.3" r="3.3"/><circle cx="1580.1" cy="1213.8" r="3.3"/><circle cx="1593" cy="1212" r="3.3"/><circle cx="1605.8" cy="1210.4" r="3.3"/><circle cx="1618.7" cy="1207.1" r="3.3"/><circle cx="1631.6" cy="1201.9" r="3.3"/><circle cx="1644.5" cy="1196.7" r="3.3"/><circle cx="1657.3" cy="1193" r="3.3"/><circle cx="1670.2" cy="1191.2" r="3.3"/><circle cx="1683.1" cy="1189.3" r="3.3"/></g>
<polyline points="1258.2,1231.9 1271.1,1231.9 1284,1230.7 1296.8,1229.7 1309.7,1228.2 1322.6,1225.9 1335.5,1224.9 1348.3,1223 1361.2,1221.8 1374.1,1220.3 1387,1218.5 1399.8,1216.3 1412.7,1213.8 1425.6,1212.1 1438.5,1210.3 1451.3,1209.2 1464.2,1208.1 1477.1,1206.9 1490,1205.6 1502.8,1204.1 1515.7,1202.3 1528.6,1201.2 1541.5,1200.3 1554.3,1199.3 1567.2,1197.8 1580.1,1195.9 1593,1193.7 1605.8,1191.9 1618.7,1190.3 1631.6,1188.5 1644.5,1187.3 1657.3,1186.3 1670.2,1184.5 1683.1,1182.1 1696,1180" fill="none" stroke="#7870b8" stroke-width="2.4" stroke-linejoin="round" stroke-linecap="butt"/>
<g fill="#7870b8"><circle cx="1258.2" cy="1231.9" r="3.3"/><circle cx="1271.1" cy="1231.9" r="3.3"/><circle cx="1284" cy="1230.7" r="3.3"/><circle cx="1296.8" cy="1229.7" r="3.3"/><circle cx="1309.7" cy="1228.2" r="3.3"/><circle cx="1322.6" cy="1225.9" r="3.3"/><circle cx="1335.5" cy="1224.9" r="3.3"/><circle cx="1348.3" cy="1223" r="3.3"/><circle cx="1361.2" cy="1221.8" r="3.3"/><circle cx="1374.1" cy="1220.3" r="3.3"/><circle cx="1387" cy="1218.5" r="3.3"/><circle cx="1399.8" cy="1216.3" r="3.3"/><circle cx="1412.7" cy="1213.8" r="3.3"/><circle cx="1425.6" cy="1212.1" r="3.3"/><circle cx="1438.5" cy="1210.3" r="3.3"/><circle cx="1451.3" cy="1209.2" r="3.3"/><circle cx="1464.2" cy="1208.1" r="3.3"/><circle cx="1477.1" cy="1206.9" r="3.3"/><circle cx="1490" cy="1205.6" r="3.3"/><circle cx="1502.8" cy="1204.1" r="3.3"/><circle cx="1515.7" cy="1202.3" r="3.3"/><circle cx="1528.6" cy="1201.2" r="3.3"/><circle cx="1541.5" cy="1200.3" r="3.3"/><circle cx="1554.3" cy="1199.3" r="3.3"/><circle cx="1567.2" cy="1197.8" r="3.3"/><circle cx="1580.1" cy="1195.9" r="3.3"/><circle cx="1593" cy="1193.7" r="3.3"/><circle cx="1605.8" cy="1191.9" r="3.3"/><circle cx="1618.7" cy="1190.3" r="3.3"/><circle cx="1631.6" cy="1188.5" r="3.3"/><circle cx="1644.5" cy="1187.3" r="3.3"/><circle cx="1657.3" cy="1186.3" r="3.3"/><circle cx="1670.2" cy="1184.5" r="3.3"/><circle cx="1683.1" cy="1182.1" r="3.3"/><circle cx="1696" cy="1180" r="3.3"/></g>
<polyline points="1258.2,1211.5 1271.1,1210 1284,1207.8 1296.8,1205.6 1309.7,1203.7 1322.6,1201.4 1335.5,1198.9 1348.3,1197 1361.2,1195 1374.1,1193 1387,1191 1399.8,1188.5 1412.7,1186.1 1425.6,1183.2 1438.5,1180.3 1451.3,1177.7 1464.2,1175.9 1477.1,1174.7 1490,1172.9 1502.8,1171 1515.7,1169.2 1528.6,1167.3 1541.5,1165.8 1554.3,1164 1567.2,1162.1 1580.1,1160.3 1593,1158.4 1605.8,1156.6 1618.7,1154.6 1631.6,1153.2 1644.5,1152.1" fill="none" stroke="#ea339d" stroke-width="2.4" stroke-linejoin="round" stroke-linecap="butt"/>
<g fill="#ea339d"><circle cx="1258.2" cy="1211.5" r="3.3"/><circle cx="1271.1" cy="1210" r="3.3"/><circle cx="1284" cy="1207.8" r="3.3"/><circle cx="1296.8" cy="1205.6" r="3.3"/><circle cx="1309.7" cy="1203.7" r="3.3"/><circle cx="1322.6" cy="1201.4" r="3.3"/><circle cx="1335.5" cy="1198.9" r="3.3"/><circle cx="1348.3" cy="1197" r="3.3"/><circle cx="1361.2" cy="1195" r="3.3"/><circle cx="1374.1" cy="1193" r="3.3"/><circle cx="1387" cy="1191" r="3.3"/><circle cx="1399.8" cy="1188.5" r="3.3"/><circle cx="1412.7" cy="1186.1" r="3.3"/><circle cx="1425.6" cy="1183.2" r="3.3"/><circle cx="1438.5" cy="1180.3" r="3.3"/><circle cx="1451.3" cy="1177.7" r="3.3"/><circle cx="1464.2" cy="1175.9" r="3.3"/><circle cx="1477.1" cy="1174.7" r="3.3"/><circle cx="1490" cy="1172.9" r="3.3"/><circle cx="1502.8" cy="1171" r="3.3"/><circle cx="1515.7" cy="1169.2" r="3.3"/><circle cx="1528.6" cy="1167.3" r="3.3"/><circle cx="1541.5" cy="1165.8" r="3.3"/><circle cx="1554.3" cy="1164" r="3.3"/><circle cx="1567.2" cy="1162.1" r="3.3"/><circle cx="1580.1" cy="1160.3" r="3.3"/><circle cx="1593" cy="1158.4" r="3.3"/><circle cx="1605.8" cy="1156.6" r="3.3"/><circle cx="1618.7" cy="1154.6" r="3.3"/><circle cx="1631.6" cy="1153.2" r="3.3"/><circle cx="1644.5" cy="1152.1" r="3.3"/></g>
<polyline points="1644.5,1161.8 1657.3,1160.6 1670.2,1159.8 1683.1,1159.8 1696,1159.2" fill="none" stroke="#6db52d" stroke-width="2.4" stroke-linejoin="round" stroke-linecap="butt"/>
<g fill="#6db52d"><circle cx="1644.5" cy="1161.8" r="3.3"/><circle cx="1657.3" cy="1160.6" r="3.3"/><circle cx="1670.2" cy="1159.8" r="3.3"/><circle cx="1683.1" cy="1159.8" r="3.3"/><circle cx="1696" cy="1159.2" r="3.3"/></g>
<g fill="#000">
<circle cx="1579.8" cy="1181.1" r="7.7"/>
<polygon points="1636.5,1147.2 1651.9,1147.2 1644.2,1162.6"/>
<polygon points="1688,1184.2 1703.4,1184.2 1695.7,1199.6"/>
<polygon points="1677.8,1086.5 1677.8,1101.9 1662.4,1094.2"/>
</g>
<polyline points="1682.8,1022.9 1695.5,1017.7 1708.5,989.6" fill="none" stroke="#dcae2d" stroke-width="2.4" stroke-linejoin="round"/>
<g fill="#dcae2d"><circle cx="1682.8" cy="1022.9" r="3.3"/><circle cx="1695.5" cy="1017.7" r="3.3"/><circle cx="1708.5" cy="989.6" r="3.3"/></g>
<g fill="#000">
<polygon points="1701.1,1145.2 1701.1,1160.6 1716.5,1152.9"/>
<rect x="1700.8" y="1022" width="15.4" height="15.4"/>
</g>
<rect x="1235.8" y="976.6" width="495.9" height="293.1" fill="none" stroke="#000" stroke-width="1.3"/>
<path d="M1322.5 1269.7v5.0M1451.2 1269.7v5.0M1579.8 1269.7v5.0M1708.7 1269.7v5.0M1235.8 981.4h-5.0M1235.8 1054.4h-5.0M1235.8 1127.4h-5.0M1235.8 1200.3h-5.0" stroke="#000" stroke-width="1.3" fill="none"/>
<g font-size="27.4" text-anchor="middle">
<text x="1322.5" y="1300">1990</text>
<text x="1451.2" y="1300">2000</text>
<text x="1579.8" y="1300">2010</text>
<text x="1708.7" y="1300">2020</text>
</g>
<g font-size="27.4" text-anchor="end">
<text x="1226" y="991.5">0.8</text>
<text x="1226" y="1064.5">0.6</text>
<text x="1226" y="1137.5">0.4</text>
<text x="1226" y="1210.4">0.2</text>
</g>
<text x="1483" y="969" font-size="33.7" text-anchor="middle">South America</text>
<text x="1236" y="969" font-size="26.8" font-weight="bold">g</text>
</g>
<g>
<rect x="1362.0" y="2.5" width="384.79999999999995" height="507.5" rx="5" fill="#fff" stroke="#d0d0d0" stroke-width="1.2"/>
<path d="M1371.2 25.6H1432.0" stroke="#45ae83" stroke-width="4.4" fill="none"/>
<circle cx="1401.4" cy="25.6" r="5.2" fill="#45ae83"/>
<text x="1452.3" y="35.3" font-size="28.3">MODIS Land Cover</text>
<path d="M1371.2 67.2H1432.0" stroke="#dc6520" stroke-width="4.4" fill="none"/>
<circle cx="1401.4" cy="67.2" r="5.2" fill="#dc6520"/>
<text x="1452.3" y="76.9" font-size="28.3">ESA CCI Land Cover</text>
<path d="M1371.2 108.7H1432.0" stroke="#000000" stroke-width="4.4" fill="none"/>
<circle cx="1401.4" cy="108.7" r="5.2" fill="#000000"/>
<text x="1452.3" y="118.4" font-size="28.3">GAIA</text>
<path d="M1371.2 150.3H1432.0" stroke="#7870b8" stroke-width="4.4" fill="none"/>
<circle cx="1401.4" cy="150.3" r="5.2" fill="#7870b8"/>
<text x="1452.3" y="160" font-size="28.3">GISA</text>
<path d="M1371.2 191.8H1432.0" stroke="#ea339d" stroke-width="4.4" fill="none"/>
<circle cx="1401.4" cy="191.8" r="5.2" fill="#ea339d"/>
<text x="1452.3" y="201.5" font-size="28.3">WSE</text>
<path d="M1371.2 233.4H1432.0" stroke="#6db52d" stroke-width="4.4" fill="none"/>
<circle cx="1401.4" cy="233.4" r="5.2" fill="#6db52d"/>
<text x="1452.3" y="243.1" font-size="28.3">CGLS Land Cover</text>
<circle cx="1401.4" cy="275" r="12.3" fill="#000"/>
<text x="1452.3" y="284.7" font-size="28.3">GUF</text>
<polygon fill="#000" points="1389.1,304.2 1413.8,304.2 1401.4,328.9"/>
<text x="1452.3" y="326.2" font-size="28.3">WSF</text>
<polygon fill="#000" points="1413.8,345.7 1413.8,370.4 1389.1,358.1"/>
<text x="1452.3" y="367.8" font-size="28.3">GLC10</text>
<path d="M1371.2 399.6H1432.0" stroke="#dcae2d" stroke-width="4.4" fill="none"/>
<circle cx="1401.4" cy="399.6" r="5.2" fill="#dcae2d"/>
<text x="1452.3" y="409.3" font-size="28.3">Esri Land Cover</text>
<polygon fill="#000" points="1389.1,428.9 1389.1,453.6 1413.8,441.2"/>
<text x="1452.3" y="450.9" font-size="28.3">ESA WorldCover</text>
<rect x="1389.1" y="470.4" width="24.7" height="24.7" fill="#000"/>
<text x="1452.3" y="492.5" font-size="28.3">Dynamic World</text>
</g>
</svg>
</body>
</html>
